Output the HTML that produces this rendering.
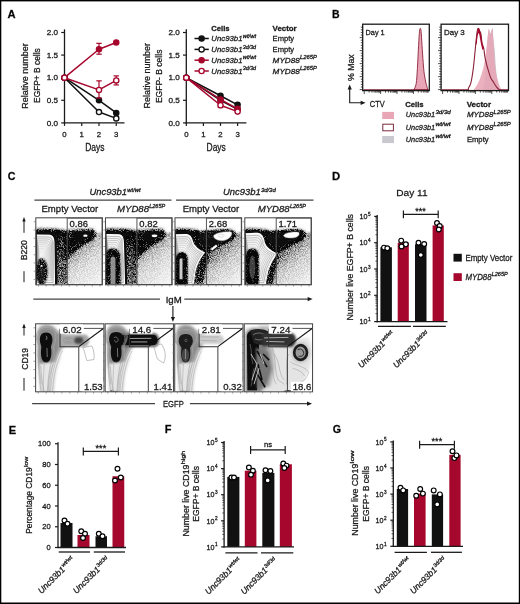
<!DOCTYPE html>
<html><head><meta charset="utf-8"><title>Figure</title>
<style>
html,body{margin:0;padding:0;background:#fff;}
body{width:520px;height:604px;overflow:hidden;}
svg{display:block;}
text{stroke:#1a1a1a;stroke-width:0.28px;}
</style></head><body>
<svg width="520" height="604" viewBox="0 0 520 604" font-family='"Liberation Sans", Arial, sans-serif'>
<rect x="0" y="0" width="520" height="604" fill="#fff"/>
<text x="7.50" y="17.90" font-size="11.8" font-weight="bold" textLength="8.10" lengthAdjust="spacingAndGlyphs" fill="#000">A</text>
<text x="331.90" y="17.90" font-size="11.8" font-weight="bold" textLength="7.60" lengthAdjust="spacingAndGlyphs" fill="#000">B</text>
<text x="7.70" y="180.40" font-size="11.8" font-weight="bold" textLength="7.70" lengthAdjust="spacingAndGlyphs" fill="#000">C</text>
<text x="332.00" y="180.40" font-size="11.8" font-weight="bold" textLength="8.20" lengthAdjust="spacingAndGlyphs" fill="#000">D</text>
<text x="8.70" y="433.80" font-size="11.8" font-weight="bold" textLength="7.40" lengthAdjust="spacingAndGlyphs" fill="#000">E</text>
<text x="164.80" y="433.40" font-size="11.8" font-weight="bold" textLength="6.70" lengthAdjust="spacingAndGlyphs" fill="#000">F</text>
<text x="332.70" y="433.40" font-size="11.8" font-weight="bold" textLength="8.30" lengthAdjust="spacingAndGlyphs" fill="#000">G</text>
<line x1="64.50" y1="29.30" x2="64.50" y2="123.50" stroke="#1a1a1a" stroke-width="1.3" />
<line x1="63.90" y1="122.90" x2="124.50" y2="122.90" stroke="#1a1a1a" stroke-width="1.3" />
<line x1="61.20" y1="122.90" x2="64.50" y2="122.90" stroke="#1a1a1a" stroke-width="1.2" />
<text x="58.10" y="125.65" font-size="7.8" text-anchor="end" textLength="11.30" lengthAdjust="spacingAndGlyphs" fill="#1a1a1a">0.0</text>
<line x1="61.20" y1="100.30" x2="64.50" y2="100.30" stroke="#1a1a1a" stroke-width="1.2" />
<text x="58.10" y="103.05" font-size="7.8" text-anchor="end" textLength="11.30" lengthAdjust="spacingAndGlyphs" fill="#1a1a1a">0.5</text>
<line x1="61.20" y1="77.70" x2="64.50" y2="77.70" stroke="#1a1a1a" stroke-width="1.2" />
<text x="58.10" y="80.45" font-size="7.8" text-anchor="end" textLength="11.30" lengthAdjust="spacingAndGlyphs" fill="#1a1a1a">1.0</text>
<line x1="61.20" y1="55.10" x2="64.50" y2="55.10" stroke="#1a1a1a" stroke-width="1.2" />
<text x="58.10" y="57.85" font-size="7.8" text-anchor="end" textLength="11.30" lengthAdjust="spacingAndGlyphs" fill="#1a1a1a">1.5</text>
<line x1="61.20" y1="32.50" x2="64.50" y2="32.50" stroke="#1a1a1a" stroke-width="1.2" />
<text x="58.10" y="35.25" font-size="7.8" text-anchor="end" textLength="11.30" lengthAdjust="spacingAndGlyphs" fill="#1a1a1a">2.0</text>
<line x1="64.50" y1="122.90" x2="64.50" y2="125.90" stroke="#1a1a1a" stroke-width="1.2" />
<text x="64.50" y="137.00" font-size="7.8" text-anchor="middle" fill="#1a1a1a">0</text>
<line x1="81.75" y1="122.90" x2="81.75" y2="125.90" stroke="#1a1a1a" stroke-width="1.2" />
<text x="81.75" y="137.00" font-size="7.8" text-anchor="middle" fill="#1a1a1a">1</text>
<line x1="99.00" y1="122.90" x2="99.00" y2="125.90" stroke="#1a1a1a" stroke-width="1.2" />
<text x="99.00" y="137.00" font-size="7.8" text-anchor="middle" fill="#1a1a1a">2</text>
<line x1="116.25" y1="122.90" x2="116.25" y2="125.90" stroke="#1a1a1a" stroke-width="1.2" />
<text x="116.25" y="137.00" font-size="7.8" text-anchor="middle" fill="#1a1a1a">3</text>
<text x="94.80" y="150.50" font-size="10" text-anchor="middle" textLength="19.30" lengthAdjust="spacingAndGlyphs" fill="#1a1a1a">Days</text>
<text transform="translate(27.80,108.80) rotate(-90)" font-size="8.9" fill="#1a1a1a" textLength="65.50" lengthAdjust="spacingAndGlyphs">Relative number</text>
<text transform="translate(40.20,102.90) rotate(-90)" font-size="8.9" fill="#1a1a1a" textLength="54.60" lengthAdjust="spacingAndGlyphs">EGFP+ B cells</text>
<polyline points="64.50,77.70 99.00,100.30 116.25,112.96" fill="none" stroke="#111" stroke-width="1.5" stroke-linejoin="round"/>
<circle cx="64.50" cy="77.70" r="2.6" fill="#111" stroke="#111" stroke-width="1.35"/>
<circle cx="99.00" cy="100.30" r="2.6" fill="#111" stroke="#111" stroke-width="1.35"/>
<circle cx="116.25" cy="112.96" r="2.6" fill="#111" stroke="#111" stroke-width="1.35"/>
<polyline points="64.50,77.70 99.00,112.05 116.25,118.38" fill="none" stroke="#111" stroke-width="1.5" stroke-linejoin="round"/>
<circle cx="64.50" cy="77.70" r="2.6" fill="#fff" stroke="#111" stroke-width="1.35"/>
<circle cx="99.00" cy="112.05" r="2.6" fill="#fff" stroke="#111" stroke-width="1.35"/>
<circle cx="116.25" cy="118.38" r="2.6" fill="#fff" stroke="#111" stroke-width="1.35"/>
<polyline points="64.50,77.70 99.00,49.22 116.25,42.44" fill="none" stroke="#a6072c" stroke-width="1.5" stroke-linejoin="round"/>
<line x1="99.00" y1="54.20" x2="99.00" y2="43.35" stroke="#a6072c" stroke-width="1.2" />
<line x1="96.30" y1="54.20" x2="101.70" y2="54.20" stroke="#a6072c" stroke-width="1.2" />
<line x1="96.30" y1="43.35" x2="101.70" y2="43.35" stroke="#a6072c" stroke-width="1.2" />
<circle cx="64.50" cy="77.70" r="2.6" fill="#a6072c" stroke="#a6072c" stroke-width="1.35"/>
<circle cx="99.00" cy="49.22" r="2.6" fill="#a6072c" stroke="#a6072c" stroke-width="1.35"/>
<circle cx="116.25" cy="42.44" r="2.6" fill="#a6072c" stroke="#a6072c" stroke-width="1.35"/>
<polyline points="64.50,77.70 99.00,89.90 116.25,80.41" fill="none" stroke="#a6072c" stroke-width="1.5" stroke-linejoin="round"/>
<line x1="99.00" y1="98.04" x2="99.00" y2="80.86" stroke="#a6072c" stroke-width="1.2" />
<line x1="96.30" y1="98.04" x2="101.70" y2="98.04" stroke="#a6072c" stroke-width="1.2" />
<line x1="96.30" y1="80.86" x2="101.70" y2="80.86" stroke="#a6072c" stroke-width="1.2" />
<line x1="116.25" y1="84.93" x2="116.25" y2="75.89" stroke="#a6072c" stroke-width="1.2" />
<line x1="113.55" y1="84.93" x2="118.95" y2="84.93" stroke="#a6072c" stroke-width="1.2" />
<line x1="113.55" y1="75.89" x2="118.95" y2="75.89" stroke="#a6072c" stroke-width="1.2" />
<circle cx="64.50" cy="77.70" r="2.6" fill="#fff" stroke="#a6072c" stroke-width="1.35"/>
<circle cx="99.00" cy="89.90" r="2.6" fill="#fff" stroke="#a6072c" stroke-width="1.35"/>
<circle cx="116.25" cy="80.41" r="2.6" fill="#fff" stroke="#a6072c" stroke-width="1.35"/>
<line x1="186.30" y1="29.30" x2="186.30" y2="123.50" stroke="#1a1a1a" stroke-width="1.3" />
<line x1="185.70" y1="122.90" x2="246.40" y2="122.90" stroke="#1a1a1a" stroke-width="1.3" />
<line x1="183.00" y1="122.90" x2="186.30" y2="122.90" stroke="#1a1a1a" stroke-width="1.2" />
<text x="179.90" y="125.65" font-size="7.8" text-anchor="end" textLength="11.30" lengthAdjust="spacingAndGlyphs" fill="#1a1a1a">0.0</text>
<line x1="183.00" y1="100.30" x2="186.30" y2="100.30" stroke="#1a1a1a" stroke-width="1.2" />
<text x="179.90" y="103.05" font-size="7.8" text-anchor="end" textLength="11.30" lengthAdjust="spacingAndGlyphs" fill="#1a1a1a">0.5</text>
<line x1="183.00" y1="77.70" x2="186.30" y2="77.70" stroke="#1a1a1a" stroke-width="1.2" />
<text x="179.90" y="80.45" font-size="7.8" text-anchor="end" textLength="11.30" lengthAdjust="spacingAndGlyphs" fill="#1a1a1a">1.0</text>
<line x1="183.00" y1="55.10" x2="186.30" y2="55.10" stroke="#1a1a1a" stroke-width="1.2" />
<text x="179.90" y="57.85" font-size="7.8" text-anchor="end" textLength="11.30" lengthAdjust="spacingAndGlyphs" fill="#1a1a1a">1.5</text>
<line x1="183.00" y1="32.50" x2="186.30" y2="32.50" stroke="#1a1a1a" stroke-width="1.2" />
<text x="179.90" y="35.25" font-size="7.8" text-anchor="end" textLength="11.30" lengthAdjust="spacingAndGlyphs" fill="#1a1a1a">2.0</text>
<line x1="186.30" y1="122.90" x2="186.30" y2="125.90" stroke="#1a1a1a" stroke-width="1.2" />
<text x="186.30" y="137.00" font-size="7.8" text-anchor="middle" fill="#1a1a1a">0</text>
<line x1="203.40" y1="122.90" x2="203.40" y2="125.90" stroke="#1a1a1a" stroke-width="1.2" />
<text x="203.40" y="137.00" font-size="7.8" text-anchor="middle" fill="#1a1a1a">1</text>
<line x1="220.50" y1="122.90" x2="220.50" y2="125.90" stroke="#1a1a1a" stroke-width="1.2" />
<text x="220.50" y="137.00" font-size="7.8" text-anchor="middle" fill="#1a1a1a">2</text>
<line x1="237.60" y1="122.90" x2="237.60" y2="125.90" stroke="#1a1a1a" stroke-width="1.2" />
<text x="237.60" y="137.00" font-size="7.8" text-anchor="middle" fill="#1a1a1a">3</text>
<text x="216.20" y="150.50" font-size="10" text-anchor="middle" textLength="19.30" lengthAdjust="spacingAndGlyphs" fill="#1a1a1a">Days</text>
<text transform="translate(149.60,108.40) rotate(-90)" font-size="8.9" fill="#1a1a1a" textLength="65.50" lengthAdjust="spacingAndGlyphs">Relative number</text>
<text transform="translate(162.00,103.10) rotate(-90)" font-size="8.9" fill="#1a1a1a" textLength="53.50" lengthAdjust="spacingAndGlyphs">EGFP- B cells</text>
<polyline points="186.30,77.70 220.50,95.78 237.60,104.82" fill="none" stroke="#111" stroke-width="1.5" stroke-linejoin="round"/>
<circle cx="186.30" cy="77.70" r="2.6" fill="#111" stroke="#111" stroke-width="1.35"/>
<circle cx="220.50" cy="95.78" r="2.6" fill="#111" stroke="#111" stroke-width="1.35"/>
<circle cx="237.60" cy="104.82" r="2.6" fill="#111" stroke="#111" stroke-width="1.35"/>
<polyline points="186.30,77.70 220.50,100.30 237.60,109.34" fill="none" stroke="#111" stroke-width="1.5" stroke-linejoin="round"/>
<circle cx="186.30" cy="77.70" r="2.6" fill="#fff" stroke="#111" stroke-width="1.35"/>
<circle cx="220.50" cy="100.30" r="2.6" fill="#fff" stroke="#111" stroke-width="1.35"/>
<circle cx="237.60" cy="109.34" r="2.6" fill="#fff" stroke="#111" stroke-width="1.35"/>
<polyline points="186.30,77.70 220.50,99.40 237.60,108.89" fill="none" stroke="#a6072c" stroke-width="1.5" stroke-linejoin="round"/>
<circle cx="186.30" cy="77.70" r="2.6" fill="#a6072c" stroke="#a6072c" stroke-width="1.35"/>
<circle cx="220.50" cy="99.40" r="2.6" fill="#a6072c" stroke="#a6072c" stroke-width="1.35"/>
<circle cx="237.60" cy="108.89" r="2.6" fill="#a6072c" stroke="#a6072c" stroke-width="1.35"/>
<polyline points="186.30,77.70 220.50,105.27 237.60,111.60" fill="none" stroke="#a6072c" stroke-width="1.5" stroke-linejoin="round"/>
<line x1="220.50" y1="107.53" x2="220.50" y2="102.56" stroke="#a6072c" stroke-width="1.2" />
<line x1="217.80" y1="107.53" x2="223.20" y2="107.53" stroke="#a6072c" stroke-width="1.2" />
<line x1="217.80" y1="102.56" x2="223.20" y2="102.56" stroke="#a6072c" stroke-width="1.2" />
<circle cx="186.30" cy="77.70" r="2.6" fill="#fff" stroke="#a6072c" stroke-width="1.35"/>
<circle cx="220.50" cy="105.27" r="2.6" fill="#fff" stroke="#a6072c" stroke-width="1.35"/>
<circle cx="237.60" cy="111.60" r="2.6" fill="#fff" stroke="#a6072c" stroke-width="1.35"/>
<text x="211.30" y="30.70" font-size="7.7" font-weight="bold" textLength="18.20" lengthAdjust="spacingAndGlyphs" fill="#1a1a1a">Cells</text>
<text x="272.60" y="30.70" font-size="7.7" font-weight="bold" textLength="24.10" lengthAdjust="spacingAndGlyphs" fill="#1a1a1a">Vector</text>
<line x1="194.50" y1="38.50" x2="208.80" y2="38.50" stroke="#111" stroke-width="1.5" />
<circle cx="201.6" cy="38.50" r="2.6" fill="#111" stroke="#111" stroke-width="1.35"/>
<text y="41.30" font-size="7.8" font-style="italic" fill="#1a1a1a"><tspan x="211.30" textLength="31.20" lengthAdjust="spacingAndGlyphs">Unc93b1</tspan><tspan x="242.70" y="37.60" font-size="5.2" textLength="13.40" lengthAdjust="spacingAndGlyphs">wt/wt</tspan></text>
<text x="272.60" y="41.30" font-size="7.7" textLength="21.50" lengthAdjust="spacingAndGlyphs" fill="#1a1a1a">Empty</text>
<line x1="194.50" y1="49.40" x2="208.80" y2="49.40" stroke="#111" stroke-width="1.5" />
<circle cx="201.6" cy="49.40" r="2.6" fill="#fff" stroke="#111" stroke-width="1.35"/>
<text y="52.20" font-size="7.8" font-style="italic" fill="#1a1a1a"><tspan x="211.30" textLength="31.20" lengthAdjust="spacingAndGlyphs">Unc93b1</tspan><tspan x="242.70" y="48.50" font-size="5.2" textLength="13.40" lengthAdjust="spacingAndGlyphs">3d/3d</tspan></text>
<text x="272.60" y="52.20" font-size="7.7" textLength="21.50" lengthAdjust="spacingAndGlyphs" fill="#1a1a1a">Empty</text>
<line x1="194.50" y1="60.20" x2="208.80" y2="60.20" stroke="#a6072c" stroke-width="1.5" />
<circle cx="201.6" cy="60.20" r="2.6" fill="#a6072c" stroke="#a6072c" stroke-width="1.35"/>
<text y="63.00" font-size="7.8" font-style="italic" fill="#1a1a1a"><tspan x="211.30" textLength="31.20" lengthAdjust="spacingAndGlyphs">Unc93b1</tspan><tspan x="242.70" y="59.30" font-size="5.2" textLength="13.40" lengthAdjust="spacingAndGlyphs">wt/wt</tspan></text>
<text y="63.00" font-size="7.8" font-style="italic" fill="#1a1a1a"><tspan x="272.60" textLength="27.30" lengthAdjust="spacingAndGlyphs">MYD88</tspan><tspan x="300.10" y="59.30" font-size="5.2" textLength="16.80" lengthAdjust="spacingAndGlyphs">L265P</tspan></text>
<line x1="194.50" y1="71.00" x2="208.80" y2="71.00" stroke="#a6072c" stroke-width="1.5" />
<circle cx="201.6" cy="71.00" r="2.6" fill="#fff" stroke="#a6072c" stroke-width="1.35"/>
<text y="73.80" font-size="7.8" font-style="italic" fill="#1a1a1a"><tspan x="211.30" textLength="31.20" lengthAdjust="spacingAndGlyphs">Unc93b1</tspan><tspan x="242.70" y="70.10" font-size="5.2" textLength="13.40" lengthAdjust="spacingAndGlyphs">3d/3d</tspan></text>
<text y="73.80" font-size="7.8" font-style="italic" fill="#1a1a1a"><tspan x="272.60" textLength="27.30" lengthAdjust="spacingAndGlyphs">MYD88</tspan><tspan x="300.10" y="70.10" font-size="5.2" textLength="16.80" lengthAdjust="spacingAndGlyphs">L265P</tspan></text>
<path d="M413.90 90.00 C414.28 88.92 415.62 87.10 416.20 83.50 C416.78 79.90 417.00 74.78 417.40 68.40 C417.80 62.02 418.25 51.38 418.60 45.20 C418.95 39.02 419.22 34.10 419.50 31.30 C419.78 28.50 420.03 28.40 420.30 28.40 C420.57 28.40 420.82 28.50 421.10 31.30 C421.38 34.10 421.65 39.98 422.00 45.20 C422.35 50.42 422.82 57.77 423.20 62.60 C423.58 67.43 423.82 70.72 424.30 74.20 C424.78 77.68 425.48 80.87 426.10 83.50 C426.72 86.13 427.68 88.92 428.00 90.00 Z" fill="#e8a6b6" stroke="#8a2238" stroke-width="0.9"/>
<line x1="363.3" y1="89.8" x2="428.7" y2="89.8" stroke="#8a2238" stroke-width="1.1"/>
<path d="M483.00 90.00 C483.33 87.50 484.42 80.83 485.00 75.00 C485.58 69.17 486.03 61.50 486.50 55.00 C486.97 48.50 487.42 40.33 487.80 36.00 C488.18 31.67 488.40 29.50 488.80 29.00 C489.20 28.50 489.78 32.67 490.20 33.00 C490.62 33.33 490.92 31.77 491.30 31.00 C491.68 30.23 492.12 26.90 492.50 28.40 C492.88 29.90 493.22 36.23 493.60 40.00 C493.98 43.77 494.40 46.27 494.80 51.00 C495.20 55.73 495.42 62.80 496.00 68.40 C496.58 74.00 497.55 81.00 498.30 84.60 C499.05 88.20 500.13 89.10 500.50 90.00 Z" fill="#c9c7cd"/>
<path d="M473.50 90.00 C474.08 89.17 475.87 87.05 477.00 85.00 C478.13 82.95 479.17 80.87 480.30 77.70 C481.43 74.53 482.83 70.45 483.80 66.00 C484.77 61.55 485.43 56.02 486.10 51.00 C486.77 45.98 487.35 39.57 487.80 35.90 C488.25 32.23 488.37 29.18 488.80 29.00 C489.23 28.82 489.78 34.90 490.40 34.80 C491.02 34.70 492.00 27.53 492.50 28.40 C493.00 29.27 493.05 34.73 493.40 40.00 C493.75 45.27 494.23 55.00 494.60 60.00 C494.97 65.00 495.18 67.05 495.60 70.00 C496.02 72.95 496.37 74.88 497.10 77.70 C497.83 80.52 499.18 84.85 500.00 86.90 C500.82 88.95 501.67 89.48 502.00 90.00 Z" fill="#e8a6b6" fill-opacity="0.88"/>
<path d="M442.00 89.80 C446.00 89.80 461.58 90.10 466.00 89.80 C470.42 89.50 467.67 89.25 468.50 88.00 C469.33 86.75 470.20 85.57 471.00 82.30 C471.80 79.03 472.62 73.62 473.30 68.40 C473.98 63.18 474.62 55.83 475.10 51.00 C475.58 46.17 475.82 42.88 476.20 39.40 C476.58 35.92 477.00 31.93 477.40 30.10 C477.80 28.27 478.22 28.20 478.60 28.40 C478.98 28.60 479.32 30.43 479.70 31.30 C480.08 32.17 480.52 31.67 480.90 33.60 C481.28 35.53 481.52 40.38 482.00 42.90 C482.48 45.42 483.32 46.38 483.80 48.70 C484.28 51.02 484.42 54.10 484.90 56.80 C485.38 59.50 486.12 62.58 486.70 64.90 C487.28 67.22 487.73 68.57 488.40 70.70 C489.07 72.83 489.83 75.77 490.70 77.70 C491.57 79.63 492.63 80.77 493.60 82.30 C494.57 83.83 495.53 85.67 496.50 86.90 C497.47 88.13 498.48 89.22 499.40 89.70 C500.32 90.18 500.57 89.78 502.00 89.80 C503.43 89.82 507.00 89.80 508.00 89.80" fill="none" stroke="#8a2238" stroke-width="1.1"/>
<path d="M475.8 43 C476.5 36 477.3 30 478.6 28.2 C480 29 481 33 482.3 43 L483.8 48.5 L482.4 50 L481 44 C480 38 479.5 34 478.6 33 C477.8 34 477.2 38 476.8 45 Z" fill="#a6072c"/>
<rect x="362.7" y="24.2" width="66.60" height="66.4" fill="none" stroke="#1a1a1a" stroke-width="1.3"/>
<text x="365.60" y="34.90" font-size="8" textLength="19.10" lengthAdjust="spacingAndGlyphs" fill="#1a1a1a">Day 1</text>
<path d="M359.70 89.60H362.70 M360.80 87.00H362.70 M360.80 84.40H362.70 M360.80 81.80H362.70 M360.80 79.20H362.70 M359.70 76.60H362.70 M360.80 74.00H362.70 M360.80 71.40H362.70 M360.80 68.80H362.70 M360.80 66.20H362.70 M359.70 63.60H362.70 M360.80 61.00H362.70 M360.80 58.40H362.70 M360.80 55.80H362.70 M360.80 53.20H362.70 M359.70 50.60H362.70 M360.80 48.00H362.70 M360.80 45.40H362.70 M360.80 42.80H362.70 M360.80 40.20H362.70 M359.70 37.60H362.70 M360.80 35.00H362.70 M360.80 32.40H362.70 M360.80 29.80H362.70 M360.80 27.20H362.70 M364.20 90.6V94.00 M369.14 90.6V92.60 M372.02 90.6V92.60 M374.07 90.6V92.60 M375.66 90.6V92.60 M376.96 90.6V92.60 M378.06 90.6V92.60 M379.01 90.6V92.60 M379.85 90.6V92.60 M380.60 90.6V94.00 M385.54 90.6V92.60 M388.42 90.6V92.60 M390.47 90.6V92.60 M392.06 90.6V92.60 M393.36 90.6V92.60 M394.46 90.6V92.60 M395.41 90.6V92.60 M396.25 90.6V92.60 M397.00 90.6V94.00 M401.94 90.6V92.60 M404.82 90.6V92.60 M406.87 90.6V92.60 M408.46 90.6V92.60 M409.76 90.6V92.60 M410.86 90.6V92.60 M411.81 90.6V92.60 M412.65 90.6V92.60 M413.40 90.6V94.00 M418.34 90.6V92.60 M421.22 90.6V92.60 M423.27 90.6V92.60 M424.86 90.6V92.60 M426.16 90.6V92.60 M427.26 90.6V92.60 M428.21 90.6V92.60" stroke="#1a1a1a" stroke-width="0.75" fill="none"/>
<rect x="441.1" y="24.2" width="67.40" height="66.4" fill="none" stroke="#1a1a1a" stroke-width="1.3"/>
<text x="444.00" y="34.90" font-size="8" textLength="20.80" lengthAdjust="spacingAndGlyphs" fill="#1a1a1a">Day 3</text>
<path d="M438.10 89.60H441.10 M439.20 87.00H441.10 M439.20 84.40H441.10 M439.20 81.80H441.10 M439.20 79.20H441.10 M438.10 76.60H441.10 M439.20 74.00H441.10 M439.20 71.40H441.10 M439.20 68.80H441.10 M439.20 66.20H441.10 M438.10 63.60H441.10 M439.20 61.00H441.10 M439.20 58.40H441.10 M439.20 55.80H441.10 M439.20 53.20H441.10 M438.10 50.60H441.10 M439.20 48.00H441.10 M439.20 45.40H441.10 M439.20 42.80H441.10 M439.20 40.20H441.10 M438.10 37.60H441.10 M439.20 35.00H441.10 M439.20 32.40H441.10 M439.20 29.80H441.10 M439.20 27.20H441.10 M442.60 90.6V94.00 M447.54 90.6V92.60 M450.42 90.6V92.60 M452.47 90.6V92.60 M454.06 90.6V92.60 M455.36 90.6V92.60 M456.46 90.6V92.60 M457.41 90.6V92.60 M458.25 90.6V92.60 M459.00 90.6V94.00 M463.94 90.6V92.60 M466.82 90.6V92.60 M468.87 90.6V92.60 M470.46 90.6V92.60 M471.76 90.6V92.60 M472.86 90.6V92.60 M473.81 90.6V92.60 M474.65 90.6V92.60 M475.40 90.6V94.00 M480.34 90.6V92.60 M483.22 90.6V92.60 M485.27 90.6V92.60 M486.86 90.6V92.60 M488.16 90.6V92.60 M489.26 90.6V92.60 M490.21 90.6V92.60 M491.05 90.6V92.60 M491.80 90.6V94.00 M496.74 90.6V92.60 M499.62 90.6V92.60 M501.67 90.6V92.60 M503.26 90.6V92.60 M504.56 90.6V92.60 M505.66 90.6V92.60 M506.61 90.6V92.60 M507.45 90.6V92.60" stroke="#1a1a1a" stroke-width="0.75" fill="none"/>
<text transform="translate(354.20,81.10) rotate(-90)" font-size="9.4" fill="#1a1a1a" textLength="26.80" lengthAdjust="spacingAndGlyphs">% Max</text>
<path d="M349.7 88.5 V102.8 H362" fill="none" stroke="#1a1a1a" stroke-width="1.1"/>
<path d="M349.7 84.6 L347.6 89.6 L351.8 89.6 Z" fill="#1a1a1a"/>
<path d="M365.6 102.8 L360.6 100.7 L360.6 104.9 Z" fill="#1a1a1a"/>
<text x="369.80" y="106.70" font-size="9.8" textLength="14.90" lengthAdjust="spacingAndGlyphs" fill="#1a1a1a">CTV</text>
<text x="405.20" y="106.50" font-size="7.7" font-weight="bold" textLength="18.40" lengthAdjust="spacingAndGlyphs" fill="#1a1a1a">Cells</text>
<text x="466.70" y="106.50" font-size="7.7" font-weight="bold" textLength="24.40" lengthAdjust="spacingAndGlyphs" fill="#1a1a1a">Vector</text>
<rect x="382.2" y="111.9" width="11.8" height="7.1" fill="#e8a6b6"/>
<rect x="382.8" y="124.2" width="10.6" height="6.6" fill="#fff" stroke="#7a2a3c" stroke-width="1.0"/>
<rect x="382.2" y="136" width="11.8" height="7.1" fill="#c8c8ce"/>
<text y="117.20" font-size="7.8" font-style="italic" fill="#1a1a1a"><tspan x="405.80" textLength="29.40" lengthAdjust="spacingAndGlyphs">Unc93b1</tspan><tspan x="435.40" y="113.50" font-size="5.2" textLength="15.30" lengthAdjust="spacingAndGlyphs">3d/3d</tspan></text>
<text y="117.20" font-size="7.8" font-style="italic" fill="#1a1a1a"><tspan x="466.90" textLength="26.50" lengthAdjust="spacingAndGlyphs">MYD88</tspan><tspan x="493.60" y="113.50" font-size="5.2" textLength="17.10" lengthAdjust="spacingAndGlyphs">L265P</tspan></text>
<text y="129.50" font-size="7.8" font-style="italic" fill="#1a1a1a"><tspan x="405.80" textLength="29.40" lengthAdjust="spacingAndGlyphs">Unc93b1</tspan><tspan x="435.40" y="125.80" font-size="5.2" textLength="15.30" lengthAdjust="spacingAndGlyphs">wt/wt</tspan></text>
<text y="129.50" font-size="7.8" font-style="italic" fill="#1a1a1a"><tspan x="466.90" textLength="26.50" lengthAdjust="spacingAndGlyphs">MYD88</tspan><tspan x="493.60" y="125.80" font-size="5.2" textLength="17.10" lengthAdjust="spacingAndGlyphs">L265P</tspan></text>
<text y="141.80" font-size="7.8" font-style="italic" fill="#1a1a1a"><tspan x="405.80" textLength="29.40" lengthAdjust="spacingAndGlyphs">Unc93b1</tspan><tspan x="435.40" y="138.10" font-size="5.2" textLength="15.30" lengthAdjust="spacingAndGlyphs">wt/wt</tspan></text>
<text x="466.90" y="141.80" font-size="7.7" textLength="21.70" lengthAdjust="spacingAndGlyphs" fill="#1a1a1a">Empty</text>
<defs>
<filter id="spk" x="-5%" y="-5%" width="110%" height="110%" color-interpolation-filters="sRGB">
  <feGaussianBlur in="SourceAlpha" stdDeviation="1.0" result="d"/>
  <feTurbulence type="fractalNoise" baseFrequency="1.1" numOctaves="2" seed="4" result="n"/>
  <feColorMatrix in="n" type="matrix" values="0 0 0 0 0  0 0 0 0 0  0 0 0 0 0  2.6 0 0 0 -0.8" result="na"/>
  <feComposite in="d" in2="na" operator="arithmetic" k1="0.9" k2="0.58" k3="0" k4="0" result="df0"/>
  <feComponentTransfer in="df0" result="df"><feFuncA type="gamma" amplitude="1.7" exponent="1.4" offset="0"/></feComponentTransfer>
  <feColorMatrix in="df" type="matrix" values="0 0 0 0 0.03  0 0 0 0 0.03  0 0 0 0 0.03  0 0 0 1 0" result="cm"/>
  <feGaussianBlur in="cm" stdDeviation="0.3"/>
</filter>
<filter id="bl05" x="-30%" y="-30%" width="160%" height="160%"><feGaussianBlur stdDeviation="0.5"/></filter>
<filter id="bl1" x="-30%" y="-30%" width="160%" height="160%"><feGaussianBlur stdDeviation="0.8"/></filter>
<filter id="bl2" x="-30%" y="-30%" width="160%" height="160%"><feGaussianBlur stdDeviation="1.6"/></filter>
<filter id="bl3" x="-40%" y="-40%" width="180%" height="180%"><feGaussianBlur stdDeviation="3"/></filter>
<clipPath id="cbox"><rect x="0.4" y="0.4" width="67" height="66.7"/></clipPath>
<linearGradient id="gfade" gradientUnits="userSpaceOnUse" x1="34" y1="26" x2="66" y2="66">
  <stop offset="0" stop-color="#000" stop-opacity="0.42"/><stop offset="0.45" stop-color="#000" stop-opacity="0.16"/><stop offset="1" stop-color="#000" stop-opacity="0.04"/>
</linearGradient>
<linearGradient id="gfade2" gradientUnits="userSpaceOnUse" x1="34" y1="30" x2="64" y2="66">
  <stop offset="0" stop-color="#000" stop-opacity="0.5"/><stop offset="0.45" stop-color="#000" stop-opacity="0.2"/><stop offset="1" stop-color="#000" stop-opacity="0.05"/>
</linearGradient>
<linearGradient id="gcol" gradientUnits="userSpaceOnUse" x1="18" y1="0" x2="32" y2="0">
  <stop offset="0" stop-color="#000" stop-opacity="1"/><stop offset="1" stop-color="#000" stop-opacity="0.7"/>
</linearGradient>
<linearGradient id="gcolv" gradientUnits="userSpaceOnUse" x1="0" y1="15" x2="0" y2="68">
  <stop offset="0" stop-color="#000" stop-opacity="0.8"/><stop offset="0.35" stop-color="#000" stop-opacity="0.55"/><stop offset="1" stop-color="#000" stop-opacity="0.45"/>
</linearGradient>
<radialGradient id="ghalo"><stop offset="0" stop-color="#000" stop-opacity="0.5"/><stop offset="1" stop-color="#000" stop-opacity="0"/></radialGradient>
</defs>
<g transform="translate(35.4,217.8) scale(0.9882,0.9926)">
<g clip-path="url(#cbox)">
<g filter="url(#spk)"><rect x="30" y="24" width="38" height="44" fill="#000" fill-opacity="0.03"/><path d="M0 9 L62 8 L64 14 L0 14 Z" fill="#000" fill-opacity="0.05"/><path d="M31 20 L68 14 L68 68 L31 68 Z" fill="url(#gfade)"/><path d="M0 12.8 C10 12.3 20 12.8 30 14 L31 18 L0 18 Z" fill="#000" fill-opacity="0.92"/><path d="M0 10.3 C10 9.8 20 10.3 30 11.5 L30 13.5 L0 13.5 Z" fill="#000" fill-opacity="0.4"/><rect x="17" y="15" width="15" height="53" fill="url(#gcolv)"/><path d="M29 14 C40 13.5 51 12 59 12.5 C62.5 14.5 61.5 19.5 56 23 C48 27 40 32 34 40 L31 44 Z" fill="#000" fill-opacity="0.72"/><path d="M31 11.5 C40 11 51 10 59 10.5 L60 13 L31 14.5 Z" fill="#000" fill-opacity="0.3"/></g>
<path d="M18.5 16.5 L21.5 16.5 L22.3 68 L19.3 68 Z" fill="#111" filter="url(#bl05)"/>
<path d="M0 14.6 C10 14 20 14.5 28 16 L27 18 L0 17.5 Z" fill="#111" filter="url(#bl05)"/>
<path d="M38 16 C44 13 53 12.5 57 14.5 C57.5 18 52 21 46 23.5 C41 25 37 21 38 16 Z" fill="#111" filter="url(#bl1)"/>
<path d="M1 16.8 L14.5 17.2 C18 17.6 18.6 20 18.8 24 L19.4 68 L1 68 Z" fill="#f4f4f4" stroke="#161616" stroke-width="1.0"/>
<path d="M1 16.8 L14.5 17.2 C18 17.6 18.6 20 18.8 24 L19.4 68 L1 68 Z" fill="none" stroke="#fff" stroke-width="1.2" transform="translate(0.7,0.8) scale(0.96,0.985)"/>
<path d="M1 16.8 L14.5 17.2 C18 17.6 18.6 20 18.8 24 L19.4 68 L1 68 Z" fill="none" stroke="#555" stroke-width="0.42" transform="translate(5,40) scale(0.900) translate(-5,-40)"/>
<path d="M1 16.8 L14.5 17.2 C18 17.6 18.6 20 18.8 24 L19.4 68 L1 68 Z" fill="none" stroke="#5c5c5c" stroke-width="0.42" transform="translate(5,40) scale(0.815) translate(-5,-40)"/>
<path d="M1 16.8 L14.5 17.2 C18 17.6 18.6 20 18.8 24 L19.4 68 L1 68 Z" fill="none" stroke="#666" stroke-width="0.42" transform="translate(5,40) scale(0.730) translate(-5,-40)"/>
<path d="M1 16.8 L14.5 17.2 C18 17.6 18.6 20 18.8 24 L19.4 68 L1 68 Z" fill="none" stroke="#6c6c6c" stroke-width="0.42" transform="translate(5,40) scale(0.645) translate(-5,-40)"/>
<path d="M1 16.8 L14.5 17.2 C18 17.6 18.6 20 18.8 24 L19.4 68 L1 68 Z" fill="none" stroke="#777" stroke-width="0.42" transform="translate(5,40) scale(0.560) translate(-5,-40)"/>
<path d="M1 16.8 L14.5 17.2 C18 17.6 18.6 20 18.8 24 L19.4 68 L1 68 Z" fill="none" stroke="#808080" stroke-width="0.42" transform="translate(5,40) scale(0.475) translate(-5,-40)"/>
<path d="M1 16.8 L14.5 17.2 C18 17.6 18.6 20 18.8 24 L19.4 68 L1 68 Z" fill="none" stroke="#888" stroke-width="0.42" transform="translate(5,40) scale(0.390) translate(-5,-40)"/>
<path d="M1 16.8 L14.5 17.2 C18 17.6 18.6 20 18.8 24 L19.4 68 L1 68 Z" fill="none" stroke="#999" stroke-width="0.42" transform="translate(5,40) scale(0.305) translate(-5,-40)"/>
<path d="M1 16.8 L14.5 17.2 C18 17.6 18.6 20 18.8 24 L19.4 68 L1 68 Z" fill="none" stroke="#aaa" stroke-width="0.42" transform="translate(5,40) scale(0.220) translate(-5,-40)"/>
<rect x="0" y="16" width="1.4" height="52" fill="#222"/>
<g filter="url(#spk)"><ellipse cx="6.5" cy="54" rx="6.2" ry="13.5" fill="#000" fill-opacity="0.68"/></g>
<ellipse cx="6" cy="57" rx="3" ry="8" fill="#222" fill-opacity="0.5" filter="url(#bl1)"/>
<circle cx="6.2" cy="48.5" r="0.9" fill="#fff"/>
<ellipse cx="50.6" cy="18" rx="2.2" ry="1.2" fill="#fff"/>
</g>
<rect x="32.2" y="0.3" width="35.3" height="66.9" fill="none" stroke="#555" stroke-width="1"/>
<rect x="0.4" y="0" width="67.39999999999999" height="67.5" fill="none" stroke="#4a4a4a" stroke-width="1.05"/>
<line x1="3.0" y1="67.5" x2="3.0" y2="69.3" stroke="#666" stroke-width="0.6"/>
<line x1="10.8" y1="67.5" x2="10.8" y2="69.3" stroke="#666" stroke-width="0.6"/>
<line x1="18.6" y1="67.5" x2="18.6" y2="69.3" stroke="#666" stroke-width="0.6"/>
<line x1="26.4" y1="67.5" x2="26.4" y2="69.3" stroke="#666" stroke-width="0.6"/>
<line x1="34.2" y1="67.5" x2="34.2" y2="69.3" stroke="#666" stroke-width="0.6"/>
<line x1="42.0" y1="67.5" x2="42.0" y2="69.3" stroke="#666" stroke-width="0.6"/>
<line x1="49.8" y1="67.5" x2="49.8" y2="69.3" stroke="#666" stroke-width="0.6"/>
<line x1="57.6" y1="67.5" x2="57.6" y2="69.3" stroke="#666" stroke-width="0.6"/>
<line x1="65.4" y1="67.5" x2="65.4" y2="69.3" stroke="#666" stroke-width="0.6"/>
<line x1="-1.8" y1="4.0" x2="0" y2="4.0" stroke="#666" stroke-width="0.6"/>
<line x1="-1.8" y1="12.3" x2="0" y2="12.3" stroke="#666" stroke-width="0.6"/>
<line x1="-1.8" y1="20.6" x2="0" y2="20.6" stroke="#666" stroke-width="0.6"/>
<line x1="-1.8" y1="28.9" x2="0" y2="28.9" stroke="#666" stroke-width="0.6"/>
<line x1="-1.8" y1="37.2" x2="0" y2="37.2" stroke="#666" stroke-width="0.6"/>
<line x1="-1.8" y1="45.5" x2="0" y2="45.5" stroke="#666" stroke-width="0.6"/>
<line x1="-1.8" y1="53.8" x2="0" y2="53.8" stroke="#666" stroke-width="0.6"/>
<line x1="-1.8" y1="62.1" x2="0" y2="62.1" stroke="#666" stroke-width="0.6"/>
<text x="34.6" y="9.5" font-size="9.3" textLength="18.6" lengthAdjust="spacingAndGlyphs" fill="#1a1a1a">0.86</text>
</g>
<g transform="translate(105.1,217.8) scale(0.9882,0.9926)">
<g clip-path="url(#cbox)">
<g filter="url(#spk)"><rect x="30" y="24" width="38" height="44" fill="#000" fill-opacity="0.03"/><path d="M0 9 L62 8 L64 14 L0 14 Z" fill="#000" fill-opacity="0.05"/><path d="M31 20 L68 14 L68 68 L31 68 Z" fill="url(#gfade)"/><path d="M0 12.8 C10 12.3 20 12.8 30 14 L31 18 L0 18 Z" fill="#000" fill-opacity="0.92"/><path d="M0 10.3 C10 9.8 20 10.3 30 11.5 L30 13.5 L0 13.5 Z" fill="#000" fill-opacity="0.4"/><rect x="17" y="15" width="15" height="53" fill="url(#gcolv)"/><path d="M29 14 C40 13.5 51 12 59 12.5 C62.5 14.5 61.5 19.5 56 23 C48 27 40 32 34 40 L31 44 Z" fill="#000" fill-opacity="0.72"/><path d="M31 11.5 C40 11 51 10 59 10.5 L60 13 L31 14.5 Z" fill="#000" fill-opacity="0.3"/></g>
<path d="M18.5 16.5 L21.5 16.5 L22.3 68 L19.3 68 Z" fill="#111" filter="url(#bl05)"/>
<path d="M0 14.6 C10 14 20 14.5 28 16 L27 18 L0 17.5 Z" fill="#111" filter="url(#bl05)"/>
<path d="M38 16 C44 13 53 12.5 57 14.5 C57.5 18 52 21 46 23.5 C41 25 37 21 38 16 Z" fill="#111" filter="url(#bl1)"/>
<path d="M1 16.3 L14 16.6 C17.5 17 18.5 19.5 18.6 26 L19.8 68 L1 68 Z" fill="#f4f4f4" stroke="#161616" stroke-width="1.0"/>
<path d="M1 16.3 L14 16.6 C17.5 17 18.5 19.5 18.6 26 L19.8 68 L1 68 Z" fill="none" stroke="#fff" stroke-width="1.2" transform="translate(0.7,0.8) scale(0.96,0.985)"/>
<path d="M1 16.3 L14 16.6 C17.5 17 18.5 19.5 18.6 26 L19.8 68 L1 68 Z" fill="none" stroke="#555" stroke-width="0.42" transform="translate(5,40) scale(0.900) translate(-5,-40)"/>
<path d="M1 16.3 L14 16.6 C17.5 17 18.5 19.5 18.6 26 L19.8 68 L1 68 Z" fill="none" stroke="#5c5c5c" stroke-width="0.42" transform="translate(5,40) scale(0.815) translate(-5,-40)"/>
<path d="M1 16.3 L14 16.6 C17.5 17 18.5 19.5 18.6 26 L19.8 68 L1 68 Z" fill="none" stroke="#666" stroke-width="0.42" transform="translate(5,40) scale(0.730) translate(-5,-40)"/>
<path d="M1 16.3 L14 16.6 C17.5 17 18.5 19.5 18.6 26 L19.8 68 L1 68 Z" fill="none" stroke="#6c6c6c" stroke-width="0.42" transform="translate(5,40) scale(0.645) translate(-5,-40)"/>
<path d="M1 16.3 L14 16.6 C17.5 17 18.5 19.5 18.6 26 L19.8 68 L1 68 Z" fill="none" stroke="#777" stroke-width="0.42" transform="translate(5,40) scale(0.560) translate(-5,-40)"/>
<path d="M1 16.3 L14 16.6 C17.5 17 18.5 19.5 18.6 26 L19.8 68 L1 68 Z" fill="none" stroke="#808080" stroke-width="0.42" transform="translate(5,40) scale(0.475) translate(-5,-40)"/>
<path d="M1 16.3 L14 16.6 C17.5 17 18.5 19.5 18.6 26 L19.8 68 L1 68 Z" fill="none" stroke="#888" stroke-width="0.42" transform="translate(5,40) scale(0.390) translate(-5,-40)"/>
<path d="M1 16.3 L14 16.6 C17.5 17 18.5 19.5 18.6 26 L19.8 68 L1 68 Z" fill="none" stroke="#999" stroke-width="0.42" transform="translate(5,40) scale(0.305) translate(-5,-40)"/>
<path d="M1 16.3 L14 16.6 C17.5 17 18.5 19.5 18.6 26 L19.8 68 L1 68 Z" fill="none" stroke="#aaa" stroke-width="0.42" transform="translate(5,40) scale(0.220) translate(-5,-40)"/>
<rect x="0" y="16" width="1.4" height="52" fill="#222"/>
<g filter="url(#spk)"><path d="M1 68 L1 37 C1 29 14 29 15 37 L16 68 Z" fill="#000" fill-opacity="0.85"/></g>
<path d="M5.5 68 L5.5 42 C5.5 38 10.5 38 10.5 42 L10.5 68 Z" fill="#bbb" fill-opacity="0.75" filter="url(#bl1)"/>
<ellipse cx="50" cy="18.2" rx="3" ry="1.5" fill="#fff"/>
</g>
<rect x="32.2" y="0.3" width="35.3" height="66.9" fill="none" stroke="#555" stroke-width="1"/>
<rect x="0.4" y="0" width="67.39999999999999" height="67.5" fill="none" stroke="#4a4a4a" stroke-width="1.05"/>
<line x1="3.0" y1="67.5" x2="3.0" y2="69.3" stroke="#666" stroke-width="0.6"/>
<line x1="10.8" y1="67.5" x2="10.8" y2="69.3" stroke="#666" stroke-width="0.6"/>
<line x1="18.6" y1="67.5" x2="18.6" y2="69.3" stroke="#666" stroke-width="0.6"/>
<line x1="26.4" y1="67.5" x2="26.4" y2="69.3" stroke="#666" stroke-width="0.6"/>
<line x1="34.2" y1="67.5" x2="34.2" y2="69.3" stroke="#666" stroke-width="0.6"/>
<line x1="42.0" y1="67.5" x2="42.0" y2="69.3" stroke="#666" stroke-width="0.6"/>
<line x1="49.8" y1="67.5" x2="49.8" y2="69.3" stroke="#666" stroke-width="0.6"/>
<line x1="57.6" y1="67.5" x2="57.6" y2="69.3" stroke="#666" stroke-width="0.6"/>
<line x1="65.4" y1="67.5" x2="65.4" y2="69.3" stroke="#666" stroke-width="0.6"/>
<line x1="-1.8" y1="4.0" x2="0" y2="4.0" stroke="#666" stroke-width="0.6"/>
<line x1="-1.8" y1="12.3" x2="0" y2="12.3" stroke="#666" stroke-width="0.6"/>
<line x1="-1.8" y1="20.6" x2="0" y2="20.6" stroke="#666" stroke-width="0.6"/>
<line x1="-1.8" y1="28.9" x2="0" y2="28.9" stroke="#666" stroke-width="0.6"/>
<line x1="-1.8" y1="37.2" x2="0" y2="37.2" stroke="#666" stroke-width="0.6"/>
<line x1="-1.8" y1="45.5" x2="0" y2="45.5" stroke="#666" stroke-width="0.6"/>
<line x1="-1.8" y1="53.8" x2="0" y2="53.8" stroke="#666" stroke-width="0.6"/>
<line x1="-1.8" y1="62.1" x2="0" y2="62.1" stroke="#666" stroke-width="0.6"/>
<text x="34.6" y="9.5" font-size="9.3" textLength="18.6" lengthAdjust="spacingAndGlyphs" fill="#1a1a1a">0.82</text>
</g>
<g transform="translate(174.6,217.8) scale(0.9882,0.9926)">
<g clip-path="url(#cbox)">
<g filter="url(#spk)"><rect x="30" y="24" width="38" height="44" fill="#000" fill-opacity="0.03"/><path d="M0 9 L62 8 L64 14 L0 14 Z" fill="#000" fill-opacity="0.05"/><path d="M28 22 L68 14 L68 68 L22 68 Z" fill="url(#gfade2)"/><path d="M0 12.5 C8 11.8 16 12.5 24 14 L28 18 L0 18 Z" fill="#000" fill-opacity="0.95"/><path d="M0 10 C8 9.5 16 10 24 11.5 L26 14 L0 13.5 Z" fill="#000" fill-opacity="0.35"/><path d="M16 14.5 C26 13.5 40 12 50 11.5 C57 11 62 13 62 16.5 C61 21 55 24 48 27 C42 30 38 33 34 36 L28 38 L16 36 Z" fill="#000" fill-opacity="0.76"/><path d="M16 36 L30 36 L36 38 C32 46 30 56 29 68 L16 68 Z" fill="#000" fill-opacity="0.55"/></g>
<path d="M0 13.5 C8 12.5 16 13.5 22 16 L21 18 L0 17.5 Z" fill="#111" filter="url(#bl05)"/>
<path d="M22 17 C32 15.5 46 13.5 56 14 C59 17 54 22 44 26 C38 29 32 31 27 27 Z" fill="#111" fill-opacity="0.75" filter="url(#bl1)"/>
<path d="M1 16.6 L12 16.4 C16 16.6 17.5 20 18.6 25 C20.5 29 24 32 30.5 35 C27 39 23 46 21 53 L18.6 68 L1 68 Z" fill="#f4f4f4" stroke="#161616" stroke-width="1.0"/>
<path d="M1 16.6 L12 16.4 C16 16.6 17.5 20 18.6 25 C20.5 29 24 32 30.5 35 C27 39 23 46 21 53 L18.6 68 L1 68 Z" fill="none" stroke="#fff" stroke-width="1.2" transform="translate(0.7,0.8) scale(0.96,0.985)"/>
<path d="M1 16.6 L12 16.4 C16 16.6 17.5 20 18.6 25 C20.5 29 24 32 30.5 35 C27 39 23 46 21 53 L18.6 68 L1 68 Z" fill="none" stroke="#555" stroke-width="0.42" transform="translate(6,42) scale(0.900) translate(-6,-42)"/>
<path d="M1 16.6 L12 16.4 C16 16.6 17.5 20 18.6 25 C20.5 29 24 32 30.5 35 C27 39 23 46 21 53 L18.6 68 L1 68 Z" fill="none" stroke="#5c5c5c" stroke-width="0.42" transform="translate(6,42) scale(0.815) translate(-6,-42)"/>
<path d="M1 16.6 L12 16.4 C16 16.6 17.5 20 18.6 25 C20.5 29 24 32 30.5 35 C27 39 23 46 21 53 L18.6 68 L1 68 Z" fill="none" stroke="#666" stroke-width="0.42" transform="translate(6,42) scale(0.730) translate(-6,-42)"/>
<path d="M1 16.6 L12 16.4 C16 16.6 17.5 20 18.6 25 C20.5 29 24 32 30.5 35 C27 39 23 46 21 53 L18.6 68 L1 68 Z" fill="none" stroke="#6c6c6c" stroke-width="0.42" transform="translate(6,42) scale(0.645) translate(-6,-42)"/>
<path d="M1 16.6 L12 16.4 C16 16.6 17.5 20 18.6 25 C20.5 29 24 32 30.5 35 C27 39 23 46 21 53 L18.6 68 L1 68 Z" fill="none" stroke="#777" stroke-width="0.42" transform="translate(6,42) scale(0.560) translate(-6,-42)"/>
<path d="M1 16.6 L12 16.4 C16 16.6 17.5 20 18.6 25 C20.5 29 24 32 30.5 35 C27 39 23 46 21 53 L18.6 68 L1 68 Z" fill="none" stroke="#808080" stroke-width="0.42" transform="translate(6,42) scale(0.475) translate(-6,-42)"/>
<path d="M1 16.6 L12 16.4 C16 16.6 17.5 20 18.6 25 C20.5 29 24 32 30.5 35 C27 39 23 46 21 53 L18.6 68 L1 68 Z" fill="none" stroke="#888" stroke-width="0.42" transform="translate(6,42) scale(0.390) translate(-6,-42)"/>
<path d="M1 16.6 L12 16.4 C16 16.6 17.5 20 18.6 25 C20.5 29 24 32 30.5 35 C27 39 23 46 21 53 L18.6 68 L1 68 Z" fill="none" stroke="#999" stroke-width="0.42" transform="translate(6,42) scale(0.305) translate(-6,-42)"/>
<path d="M1 16.6 L12 16.4 C16 16.6 17.5 20 18.6 25 C20.5 29 24 32 30.5 35 C27 39 23 46 21 53 L18.6 68 L1 68 Z" fill="none" stroke="#aaa" stroke-width="0.42" transform="translate(6,42) scale(0.220) translate(-6,-42)"/>
<rect x="0" y="16" width="1.4" height="52" fill="#222"/>
<g filter="url(#spk)"><path d="M1.5 68 L1.5 41 C1.5 33 13 33 13 41 L13 68 Z" fill="#000"/></g>
<path d="M5 62 L5 43 C5 40 8 40 8 43 L8 62 Z" fill="#ccc" filter="url(#bl1)"/>
<path d="M39.4 18 C42 14.5 52 13.5 57.5 14.2 C59.5 17 55 22.5 49 23 C44 23.4 39 21 39.4 18 Z" fill="#fff" stroke="#888" stroke-width="0.5"/>
<ellipse cx="47" cy="18" rx="3" ry="1.6" fill="none" stroke="#bbb" stroke-width="0.5"/>
<path d="M36.5 31.5 L42 27 L43.5 28.6 L38 33 Z" fill="#fff" filter="url(#bl05)"/>
</g>
<rect x="32.2" y="0.3" width="35.3" height="66.9" fill="none" stroke="#555" stroke-width="1"/>
<rect x="0.4" y="0" width="67.39999999999999" height="67.5" fill="none" stroke="#4a4a4a" stroke-width="1.05"/>
<line x1="3.0" y1="67.5" x2="3.0" y2="69.3" stroke="#666" stroke-width="0.6"/>
<line x1="10.8" y1="67.5" x2="10.8" y2="69.3" stroke="#666" stroke-width="0.6"/>
<line x1="18.6" y1="67.5" x2="18.6" y2="69.3" stroke="#666" stroke-width="0.6"/>
<line x1="26.4" y1="67.5" x2="26.4" y2="69.3" stroke="#666" stroke-width="0.6"/>
<line x1="34.2" y1="67.5" x2="34.2" y2="69.3" stroke="#666" stroke-width="0.6"/>
<line x1="42.0" y1="67.5" x2="42.0" y2="69.3" stroke="#666" stroke-width="0.6"/>
<line x1="49.8" y1="67.5" x2="49.8" y2="69.3" stroke="#666" stroke-width="0.6"/>
<line x1="57.6" y1="67.5" x2="57.6" y2="69.3" stroke="#666" stroke-width="0.6"/>
<line x1="65.4" y1="67.5" x2="65.4" y2="69.3" stroke="#666" stroke-width="0.6"/>
<line x1="-1.8" y1="4.0" x2="0" y2="4.0" stroke="#666" stroke-width="0.6"/>
<line x1="-1.8" y1="12.3" x2="0" y2="12.3" stroke="#666" stroke-width="0.6"/>
<line x1="-1.8" y1="20.6" x2="0" y2="20.6" stroke="#666" stroke-width="0.6"/>
<line x1="-1.8" y1="28.9" x2="0" y2="28.9" stroke="#666" stroke-width="0.6"/>
<line x1="-1.8" y1="37.2" x2="0" y2="37.2" stroke="#666" stroke-width="0.6"/>
<line x1="-1.8" y1="45.5" x2="0" y2="45.5" stroke="#666" stroke-width="0.6"/>
<line x1="-1.8" y1="53.8" x2="0" y2="53.8" stroke="#666" stroke-width="0.6"/>
<line x1="-1.8" y1="62.1" x2="0" y2="62.1" stroke="#666" stroke-width="0.6"/>
<text x="34.6" y="9.5" font-size="9.3" textLength="18.6" lengthAdjust="spacingAndGlyphs" fill="#1a1a1a">2.68</text>
</g>
<g transform="translate(244.4,217.8) scale(0.9882,0.9926)">
<g clip-path="url(#cbox)">
<g filter="url(#spk)"><rect x="30" y="24" width="38" height="44" fill="#000" fill-opacity="0.03"/><path d="M0 9 L62 8 L64 14 L0 14 Z" fill="#000" fill-opacity="0.05"/><path d="M28 22 L68 14 L68 68 L22 68 Z" fill="url(#gfade2)"/><path d="M0 12.5 C8 11.8 16 12.5 24 14 L28 18 L0 18 Z" fill="#000" fill-opacity="0.95"/><path d="M0 10 C8 9.5 16 10 24 11.5 L26 14 L0 13.5 Z" fill="#000" fill-opacity="0.35"/><path d="M16 14.5 C26 13.5 40 12 50 11.5 C57 11 62 13 62 16.5 C61 21 55 24 48 27 C42 30 38 33 34 36 L28 38 L16 36 Z" fill="#000" fill-opacity="0.84"/><path d="M16 36 L30 36 L36 38 C32 46 30 56 29 68 L16 68 Z" fill="#000" fill-opacity="0.62"/></g>
<path d="M0 13.5 C8 12.5 16 13.5 22 16 L21 18 L0 17.5 Z" fill="#111" filter="url(#bl05)"/>
<path d="M22 17 C32 15.5 46 13.5 56 14 C59 17 54 22 44 26 C38 29 32 31 27 27 Z" fill="#111" fill-opacity="0.75" filter="url(#bl1)"/>
<path d="M1 15.5 L13 15 C18 15.2 19.5 19 20.3 25 C22 29.5 26 33 33 36 C30 40 26 47 24 53 L21 68 L1 68 Z" fill="#f4f4f4" stroke="#161616" stroke-width="1.0"/>
<path d="M1 15.5 L13 15 C18 15.2 19.5 19 20.3 25 C22 29.5 26 33 33 36 C30 40 26 47 24 53 L21 68 L1 68 Z" fill="none" stroke="#fff" stroke-width="1.2" transform="translate(0.7,0.8) scale(0.96,0.985)"/>
<path d="M1 15.5 L13 15 C18 15.2 19.5 19 20.3 25 C22 29.5 26 33 33 36 C30 40 26 47 24 53 L21 68 L1 68 Z" fill="none" stroke="#555" stroke-width="0.42" transform="translate(6,42) scale(0.900) translate(-6,-42)"/>
<path d="M1 15.5 L13 15 C18 15.2 19.5 19 20.3 25 C22 29.5 26 33 33 36 C30 40 26 47 24 53 L21 68 L1 68 Z" fill="none" stroke="#5c5c5c" stroke-width="0.42" transform="translate(6,42) scale(0.815) translate(-6,-42)"/>
<path d="M1 15.5 L13 15 C18 15.2 19.5 19 20.3 25 C22 29.5 26 33 33 36 C30 40 26 47 24 53 L21 68 L1 68 Z" fill="none" stroke="#666" stroke-width="0.42" transform="translate(6,42) scale(0.730) translate(-6,-42)"/>
<path d="M1 15.5 L13 15 C18 15.2 19.5 19 20.3 25 C22 29.5 26 33 33 36 C30 40 26 47 24 53 L21 68 L1 68 Z" fill="none" stroke="#6c6c6c" stroke-width="0.42" transform="translate(6,42) scale(0.645) translate(-6,-42)"/>
<path d="M1 15.5 L13 15 C18 15.2 19.5 19 20.3 25 C22 29.5 26 33 33 36 C30 40 26 47 24 53 L21 68 L1 68 Z" fill="none" stroke="#777" stroke-width="0.42" transform="translate(6,42) scale(0.560) translate(-6,-42)"/>
<path d="M1 15.5 L13 15 C18 15.2 19.5 19 20.3 25 C22 29.5 26 33 33 36 C30 40 26 47 24 53 L21 68 L1 68 Z" fill="none" stroke="#808080" stroke-width="0.42" transform="translate(6,42) scale(0.475) translate(-6,-42)"/>
<path d="M1 15.5 L13 15 C18 15.2 19.5 19 20.3 25 C22 29.5 26 33 33 36 C30 40 26 47 24 53 L21 68 L1 68 Z" fill="none" stroke="#888" stroke-width="0.42" transform="translate(6,42) scale(0.390) translate(-6,-42)"/>
<path d="M1 15.5 L13 15 C18 15.2 19.5 19 20.3 25 C22 29.5 26 33 33 36 C30 40 26 47 24 53 L21 68 L1 68 Z" fill="none" stroke="#999" stroke-width="0.42" transform="translate(6,42) scale(0.305) translate(-6,-42)"/>
<path d="M1 15.5 L13 15 C18 15.2 19.5 19 20.3 25 C22 29.5 26 33 33 36 C30 40 26 47 24 53 L21 68 L1 68 Z" fill="none" stroke="#aaa" stroke-width="0.42" transform="translate(6,42) scale(0.220) translate(-6,-42)"/>
<rect x="0" y="16" width="1.4" height="52" fill="#222"/>
<g filter="url(#spk)"><path d="M1.5 68 L1.5 38 C1.5 29 14.5 29 14.5 38 L14.5 68 Z" fill="#000" fill-opacity="0.92"/></g>
<ellipse cx="8" cy="50" rx="3" ry="12" fill="#777" fill-opacity="0.5" filter="url(#bl1)"/>
<path d="M39.6 17.5 C42 14.5 50 13.8 55 14.5 C56.5 17 54 20.3 48 20.3 C43 20.3 39.4 19.5 39.6 17.5 Z" fill="#fff" stroke="#999" stroke-width="0.4"/>
</g>
<rect x="32.2" y="0.3" width="35.3" height="66.9" fill="none" stroke="#555" stroke-width="1"/>
<rect x="0.4" y="0" width="67.39999999999999" height="67.5" fill="none" stroke="#4a4a4a" stroke-width="1.05"/>
<line x1="3.0" y1="67.5" x2="3.0" y2="69.3" stroke="#666" stroke-width="0.6"/>
<line x1="10.8" y1="67.5" x2="10.8" y2="69.3" stroke="#666" stroke-width="0.6"/>
<line x1="18.6" y1="67.5" x2="18.6" y2="69.3" stroke="#666" stroke-width="0.6"/>
<line x1="26.4" y1="67.5" x2="26.4" y2="69.3" stroke="#666" stroke-width="0.6"/>
<line x1="34.2" y1="67.5" x2="34.2" y2="69.3" stroke="#666" stroke-width="0.6"/>
<line x1="42.0" y1="67.5" x2="42.0" y2="69.3" stroke="#666" stroke-width="0.6"/>
<line x1="49.8" y1="67.5" x2="49.8" y2="69.3" stroke="#666" stroke-width="0.6"/>
<line x1="57.6" y1="67.5" x2="57.6" y2="69.3" stroke="#666" stroke-width="0.6"/>
<line x1="65.4" y1="67.5" x2="65.4" y2="69.3" stroke="#666" stroke-width="0.6"/>
<line x1="-1.8" y1="4.0" x2="0" y2="4.0" stroke="#666" stroke-width="0.6"/>
<line x1="-1.8" y1="12.3" x2="0" y2="12.3" stroke="#666" stroke-width="0.6"/>
<line x1="-1.8" y1="20.6" x2="0" y2="20.6" stroke="#666" stroke-width="0.6"/>
<line x1="-1.8" y1="28.9" x2="0" y2="28.9" stroke="#666" stroke-width="0.6"/>
<line x1="-1.8" y1="37.2" x2="0" y2="37.2" stroke="#666" stroke-width="0.6"/>
<line x1="-1.8" y1="45.5" x2="0" y2="45.5" stroke="#666" stroke-width="0.6"/>
<line x1="-1.8" y1="53.8" x2="0" y2="53.8" stroke="#666" stroke-width="0.6"/>
<line x1="-1.8" y1="62.1" x2="0" y2="62.1" stroke="#666" stroke-width="0.6"/>
<text x="34.6" y="9.5" font-size="9.3" textLength="18.6" lengthAdjust="spacingAndGlyphs" fill="#1a1a1a">1.71</text>
</g>
<g transform="translate(35.2,323.8) scale(1.0133,1.0074)">
<g clip-path="url(#cbox)">
<path d="M3 4 C6 -1 16 -1 20 5 C24 9 27 10 30 11 L28 24 C22 30 20 40 19 52 L18 68 L5 68 C4 50 2 30 3 4 Z" fill="#c6c6c6" filter="url(#bl2)"/>
<path d="M3 8 C5 0 18 0 21 8 L26 12 L26 22 C22 26 20 34 19 42 C15 47 7 47 4 42 Z" fill="#8c8c8c" filter="url(#bl2)"/>
<path d="M7 40 C8 50 9 60 10 68 L16 68 C16 58 17 48 18 40 Z" fill="#ccc" filter="url(#bl1)"/>
<path d="M23 10.5 L50 10.5 C55 13 54 21 49 23 L23 23 Z" fill="#a8a8a8" filter="url(#bl1)"/>
<ellipse cx="43" cy="16.5" rx="4.5" ry="3.4" fill="#444" filter="url(#bl1)"/>
<path d="M10.80 8.60 C16.38 8.60 17.00 13.10 17.00 16.10 C17.00 19.70 15.28 22.10 15.56 23.60 C16.40 27.80 16.40 38.60 10.80 38.60 C5.20 38.60 5.20 27.80 6.04 23.60 C6.32 22.10 4.60 19.70 4.60 16.10 C4.60 13.10 5.22 8.60 10.80 8.60 Z" fill="none" stroke="#aaa" stroke-width="0.5" transform="translate(10.8,23.6) scale(1.55,1.330) translate(-10.8,-23.6)"/>
<path d="M10.80 8.60 C16.38 8.60 17.00 13.10 17.00 16.10 C17.00 19.70 15.28 22.10 15.56 23.60 C16.40 27.80 16.40 38.60 10.80 38.60 C5.20 38.60 5.20 27.80 6.04 23.60 C6.32 22.10 4.60 19.70 4.60 16.10 C4.60 13.10 5.22 8.60 10.80 8.60 Z" fill="none" stroke="#999" stroke-width="0.5" transform="translate(10.8,23.6) scale(1.38,1.228) translate(-10.8,-23.6)"/>
<path d="M10.80 8.60 C16.38 8.60 17.00 13.10 17.00 16.10 C17.00 19.70 15.28 22.10 15.56 23.60 C16.40 27.80 16.40 38.60 10.80 38.60 C5.20 38.60 5.20 27.80 6.04 23.60 C6.32 22.10 4.60 19.70 4.60 16.10 C4.60 13.10 5.22 8.60 10.80 8.60 Z" fill="none" stroke="#888" stroke-width="0.5" transform="translate(10.8,23.6) scale(1.2,1.120) translate(-10.8,-23.6)"/>
<path d="M10.80 8.60 C16.38 8.60 17.00 13.10 17.00 16.10 C17.00 19.70 15.28 22.10 15.56 23.60 C16.40 27.80 16.40 38.60 10.80 38.60 C5.20 38.60 5.20 27.80 6.04 23.60 C6.32 22.10 4.60 19.70 4.60 16.10 C4.60 13.10 5.22 8.60 10.80 8.60 Z" fill="#111" filter="url(#bl05)"/>
<path d="M10.5 12 C12 13 12 15 10.5 16" fill="none" stroke="#ccc" stroke-width="0.6"/>
<path d="M11.6 24 L11.9 33" stroke="#999" stroke-width="0.7"/>
<ellipse cx="33" cy="16.5" rx="5" ry="2.6" fill="none" stroke="#888" stroke-width="0.5"/>
<ellipse cx="33" cy="16.5" rx="2.4" ry="1.2" fill="none" stroke="#888" stroke-width="0.5"/>
<path d="M47 23.5 L56 22 C58 26 58.5 32 58 35.5 L51 36.5 C49 31 49 27 47 23.5 Z" fill="none" stroke="#999" stroke-width="0.6"/>
<path d="M4 40 C5 50 6 60 7 68 L18 68 C18 58 21 46 27 30 L20 38 Z" fill="#e6e6e6" filter="url(#bl1)"/>
<path d="M23 25 C17 36 15 50 14 68 M27 27 C21 38 18 52 17 68 M18 40 C14 48 13 58 13 68" fill="none" stroke="#999" stroke-width="0.45"/>
<path d="M3 30 C3 44 4 56 6 68 M5.5 42 C6 52 7 60 9 68" fill="none" stroke="#999" stroke-width="0.45"/>
<path d="M21 25 C15 36 13 50 12 68" fill="none" stroke="#888" stroke-width="0.45"/>
<path d="M25 25 C19 38 16 52 15 68" fill="none" stroke="#999" stroke-width="0.45"/>
<path d="M8 68 C8 56 8.5 46 9 40" fill="none" stroke="#999" stroke-width="0.45"/>
<path d="M17 4 C22 7 26 9 29 10" fill="none" stroke="#aaa" stroke-width="0.45"/>
<path d="M4 6 C2 20 3 40 6 60" fill="none" stroke="#999" stroke-width="0.45"/>
</g>
<path d="M24.5 4.8 V22.7 H43.0" fill="none" stroke="#333" stroke-width="1"/>
<path d="M48.0 4.6 H67.3" fill="none" stroke="#666" stroke-width="1.1"/>
<line x1="43.0" y1="22.7" x2="67.3" y2="4.6" stroke="#111" stroke-width="1.1"/>
<line x1="43.0" y1="22.7" x2="43.0" y2="67.5" stroke="#444" stroke-width="1"/>
<rect x="0.4" y="0" width="67.39999999999999" height="67.5" fill="none" stroke="#4a4a4a" stroke-width="1.05"/>
<line x1="3.0" y1="67.5" x2="3.0" y2="69.3" stroke="#666" stroke-width="0.6"/>
<line x1="10.8" y1="67.5" x2="10.8" y2="69.3" stroke="#666" stroke-width="0.6"/>
<line x1="18.6" y1="67.5" x2="18.6" y2="69.3" stroke="#666" stroke-width="0.6"/>
<line x1="26.4" y1="67.5" x2="26.4" y2="69.3" stroke="#666" stroke-width="0.6"/>
<line x1="34.2" y1="67.5" x2="34.2" y2="69.3" stroke="#666" stroke-width="0.6"/>
<line x1="42.0" y1="67.5" x2="42.0" y2="69.3" stroke="#666" stroke-width="0.6"/>
<line x1="49.8" y1="67.5" x2="49.8" y2="69.3" stroke="#666" stroke-width="0.6"/>
<line x1="57.6" y1="67.5" x2="57.6" y2="69.3" stroke="#666" stroke-width="0.6"/>
<line x1="65.4" y1="67.5" x2="65.4" y2="69.3" stroke="#666" stroke-width="0.6"/>
<line x1="-1.8" y1="4.0" x2="0" y2="4.0" stroke="#666" stroke-width="0.6"/>
<line x1="-1.8" y1="12.3" x2="0" y2="12.3" stroke="#666" stroke-width="0.6"/>
<line x1="-1.8" y1="20.6" x2="0" y2="20.6" stroke="#666" stroke-width="0.6"/>
<line x1="-1.8" y1="28.9" x2="0" y2="28.9" stroke="#666" stroke-width="0.6"/>
<line x1="-1.8" y1="37.2" x2="0" y2="37.2" stroke="#666" stroke-width="0.6"/>
<line x1="-1.8" y1="45.5" x2="0" y2="45.5" stroke="#666" stroke-width="0.6"/>
<line x1="-1.8" y1="53.8" x2="0" y2="53.8" stroke="#666" stroke-width="0.6"/>
<line x1="-1.8" y1="62.1" x2="0" y2="62.1" stroke="#666" stroke-width="0.6"/>
<rect x="24.5" y="0.6" width="22.5" height="9.2" fill="#fff"/>
<text x="27.1" y="9.3" font-size="9.4" textLength="18.8" lengthAdjust="spacingAndGlyphs" fill="#1a1a1a">6.02</text>
<rect x="46.5" y="57.5" width="20.7" height="9.4" fill="#fff"/>
<text x="66.6" y="65.8" font-size="9.4" text-anchor="end" textLength="18.4" lengthAdjust="spacingAndGlyphs" fill="#1a1a1a">1.53</text>
</g>
<g transform="translate(104.75,323.8) scale(1.0133,1.0074)">
<g clip-path="url(#cbox)">
<path d="M3 4 C6 -1 16 -1 20 5 C24 9 27 10 30 11 L28 24 C22 30 20 40 19 52 L18 68 L5 68 C4 50 2 30 3 4 Z" fill="#c6c6c6" filter="url(#bl2)"/>
<path d="M3 8 C5 0 18 0 21 8 L26 12 L26 22 C22 26 20 34 19 42 C15 47 7 47 4 42 Z" fill="#8c8c8c" filter="url(#bl2)"/>
<path d="M7 40 C8 50 9 60 10 68 L16 68 C16 58 17 48 18 40 Z" fill="#ccc" filter="url(#bl1)"/>
<path d="M16 9.5 L50 9.5 C55 12 55 21 50 23 L16 23 Z" fill="#555" filter="url(#bl1)"/>
<path d="M17 11 L49 11 C53 13 53 19.5 49 21 L17 21 Z" fill="#111" filter="url(#bl05)"/>
<path d="M11.30 8.20 C17.60 8.20 18.30 12.76 18.30 15.80 C18.30 19.45 15.94 21.88 16.23 23.40 C17.10 27.66 17.10 38.60 11.30 38.60 C5.50 38.60 5.50 27.66 6.37 23.40 C6.66 21.88 4.30 19.45 4.30 15.80 C4.30 12.76 5.00 8.20 11.30 8.20 Z" fill="none" stroke="#aaa" stroke-width="0.5" transform="translate(11.3,23.4) scale(1.55,1.330) translate(-11.3,-23.4)"/>
<path d="M11.30 8.20 C17.60 8.20 18.30 12.76 18.30 15.80 C18.30 19.45 15.94 21.88 16.23 23.40 C17.10 27.66 17.10 38.60 11.30 38.60 C5.50 38.60 5.50 27.66 6.37 23.40 C6.66 21.88 4.30 19.45 4.30 15.80 C4.30 12.76 5.00 8.20 11.30 8.20 Z" fill="none" stroke="#999" stroke-width="0.5" transform="translate(11.3,23.4) scale(1.38,1.228) translate(-11.3,-23.4)"/>
<path d="M11.30 8.20 C17.60 8.20 18.30 12.76 18.30 15.80 C18.30 19.45 15.94 21.88 16.23 23.40 C17.10 27.66 17.10 38.60 11.30 38.60 C5.50 38.60 5.50 27.66 6.37 23.40 C6.66 21.88 4.30 19.45 4.30 15.80 C4.30 12.76 5.00 8.20 11.30 8.20 Z" fill="none" stroke="#888" stroke-width="0.5" transform="translate(11.3,23.4) scale(1.2,1.120) translate(-11.3,-23.4)"/>
<path d="M11.30 8.20 C17.60 8.20 18.30 12.76 18.30 15.80 C18.30 19.45 15.94 21.88 16.23 23.40 C17.10 27.66 17.10 38.60 11.30 38.60 C5.50 38.60 5.50 27.66 6.37 23.40 C6.66 21.88 4.30 19.45 4.30 15.80 C4.30 12.76 5.00 8.20 11.30 8.20 Z" fill="#111" filter="url(#bl05)"/>
<path d="M24 14.6 L46 14.4 M26 18 L42 18" stroke="#ddd" stroke-width="0.7"/>
<path d="M9 14 C11 12 14 14 13 17 C12 19 9 18 10 16" fill="none" stroke="#bbb" stroke-width="0.5"/>
<path d="M12.5 24 L12.8 33" stroke="#999" stroke-width="0.7"/>
<ellipse cx="9" cy="67.5" rx="3.8" ry="2" fill="#000" filter="url(#bl05)"/>
<path d="M48 22 L56 20 C60 26 61 33 58 39 L52 35 C50 30 50 26 48 22 Z" fill="none" stroke="#999" stroke-width="0.6"/>
<path d="M4 40 C5 50 6 60 7 68 L18 68 C18 58 21 46 27 30 L20 38 Z" fill="#e6e6e6" filter="url(#bl1)"/>
<path d="M23 25 C17 36 15 50 14 68 M27 27 C21 38 18 52 17 68 M18 40 C14 48 13 58 13 68" fill="none" stroke="#999" stroke-width="0.45"/>
<path d="M3 30 C3 44 4 56 6 68 M5.5 42 C6 52 7 60 9 68" fill="none" stroke="#999" stroke-width="0.45"/>
<path d="M21 25 C15 36 13 50 12 68" fill="none" stroke="#888" stroke-width="0.45"/>
<path d="M25 25 C19 38 16 52 15 68" fill="none" stroke="#999" stroke-width="0.45"/>
<path d="M8 68 C8 56 8.5 46 9 40" fill="none" stroke="#999" stroke-width="0.45"/>
<path d="M17 4 C22 7 26 9 29 10" fill="none" stroke="#aaa" stroke-width="0.45"/>
<path d="M4 6 C2 20 3 40 6 60" fill="none" stroke="#999" stroke-width="0.45"/>
</g>
<path d="M24.5 4.8 V22.7 H43.0" fill="none" stroke="#333" stroke-width="1"/>
<path d="M48.0 4.6 H67.3" fill="none" stroke="#666" stroke-width="1.1"/>
<line x1="43.0" y1="22.7" x2="67.3" y2="4.6" stroke="#111" stroke-width="1.1"/>
<line x1="43.0" y1="22.7" x2="43.0" y2="67.5" stroke="#444" stroke-width="1"/>
<rect x="0.4" y="0" width="67.39999999999999" height="67.5" fill="none" stroke="#4a4a4a" stroke-width="1.05"/>
<line x1="3.0" y1="67.5" x2="3.0" y2="69.3" stroke="#666" stroke-width="0.6"/>
<line x1="10.8" y1="67.5" x2="10.8" y2="69.3" stroke="#666" stroke-width="0.6"/>
<line x1="18.6" y1="67.5" x2="18.6" y2="69.3" stroke="#666" stroke-width="0.6"/>
<line x1="26.4" y1="67.5" x2="26.4" y2="69.3" stroke="#666" stroke-width="0.6"/>
<line x1="34.2" y1="67.5" x2="34.2" y2="69.3" stroke="#666" stroke-width="0.6"/>
<line x1="42.0" y1="67.5" x2="42.0" y2="69.3" stroke="#666" stroke-width="0.6"/>
<line x1="49.8" y1="67.5" x2="49.8" y2="69.3" stroke="#666" stroke-width="0.6"/>
<line x1="57.6" y1="67.5" x2="57.6" y2="69.3" stroke="#666" stroke-width="0.6"/>
<line x1="65.4" y1="67.5" x2="65.4" y2="69.3" stroke="#666" stroke-width="0.6"/>
<line x1="-1.8" y1="4.0" x2="0" y2="4.0" stroke="#666" stroke-width="0.6"/>
<line x1="-1.8" y1="12.3" x2="0" y2="12.3" stroke="#666" stroke-width="0.6"/>
<line x1="-1.8" y1="20.6" x2="0" y2="20.6" stroke="#666" stroke-width="0.6"/>
<line x1="-1.8" y1="28.9" x2="0" y2="28.9" stroke="#666" stroke-width="0.6"/>
<line x1="-1.8" y1="37.2" x2="0" y2="37.2" stroke="#666" stroke-width="0.6"/>
<line x1="-1.8" y1="45.5" x2="0" y2="45.5" stroke="#666" stroke-width="0.6"/>
<line x1="-1.8" y1="53.8" x2="0" y2="53.8" stroke="#666" stroke-width="0.6"/>
<line x1="-1.8" y1="62.1" x2="0" y2="62.1" stroke="#666" stroke-width="0.6"/>
<rect x="24.5" y="0.6" width="22.5" height="9.2" fill="#fff"/>
<text x="27.1" y="9.3" font-size="9.4" textLength="18.8" lengthAdjust="spacingAndGlyphs" fill="#1a1a1a">14.6</text>
<rect x="46.5" y="57.5" width="20.7" height="9.4" fill="#fff"/>
<text x="66.6" y="65.8" font-size="9.4" text-anchor="end" textLength="18.4" lengthAdjust="spacingAndGlyphs" fill="#1a1a1a">1.41</text>
</g>
<g transform="translate(174.3,323.8) scale(1.0133,1.0074)">
<g clip-path="url(#cbox)">
<path d="M3 4 C6 -1 16 -1 20 5 C24 9 27 10 30 11 L28 24 C22 30 20 40 19 52 L18 68 L5 68 C4 50 2 30 3 4 Z" fill="#c6c6c6" filter="url(#bl2)"/>
<path d="M3 8 C5 0 18 0 21 8 L26 12 L26 22 C22 26 20 34 19 42 C15 47 7 47 4 42 Z" fill="#8c8c8c" filter="url(#bl2)"/>
<path d="M7 40 C8 50 9 60 10 68 L16 68 C16 58 17 48 18 40 Z" fill="#ccc" filter="url(#bl1)"/>
<path d="M24 11 L46 11 C50 13 50 19 46 20 L24 20 Z" fill="#ccc" filter="url(#bl1)"/>
<path d="M11.30 10.20 C17.60 10.20 18.30 14.46 18.30 17.30 C18.30 20.71 15.30 22.98 15.55 24.40 C16.30 28.38 16.30 38.60 11.30 38.60 C6.30 38.60 6.30 28.38 7.05 24.40 C7.30 22.98 4.30 20.71 4.30 17.30 C4.30 14.46 5.00 10.20 11.30 10.20 Z" fill="none" stroke="#aaa" stroke-width="0.5" transform="translate(11.3,24.4) scale(1.55,1.330) translate(-11.3,-24.4)"/>
<path d="M11.30 10.20 C17.60 10.20 18.30 14.46 18.30 17.30 C18.30 20.71 15.30 22.98 15.55 24.40 C16.30 28.38 16.30 38.60 11.30 38.60 C6.30 38.60 6.30 28.38 7.05 24.40 C7.30 22.98 4.30 20.71 4.30 17.30 C4.30 14.46 5.00 10.20 11.30 10.20 Z" fill="none" stroke="#999" stroke-width="0.5" transform="translate(11.3,24.4) scale(1.38,1.228) translate(-11.3,-24.4)"/>
<path d="M11.30 10.20 C17.60 10.20 18.30 14.46 18.30 17.30 C18.30 20.71 15.30 22.98 15.55 24.40 C16.30 28.38 16.30 38.60 11.30 38.60 C6.30 38.60 6.30 28.38 7.05 24.40 C7.30 22.98 4.30 20.71 4.30 17.30 C4.30 14.46 5.00 10.20 11.30 10.20 Z" fill="none" stroke="#888" stroke-width="0.5" transform="translate(11.3,24.4) scale(1.2,1.120) translate(-11.3,-24.4)"/>
<path d="M11.30 10.20 C17.60 10.20 18.30 14.46 18.30 17.30 C18.30 20.71 15.30 22.98 15.55 24.40 C16.30 28.38 16.30 38.60 11.30 38.60 C6.30 38.60 6.30 28.38 7.05 24.40 C7.30 22.98 4.30 20.71 4.30 17.30 C4.30 14.46 5.00 10.20 11.30 10.20 Z" fill="#1a1a1a" filter="url(#bl05)"/>
<ellipse cx="11" cy="31" rx="3.6" ry="6.5" fill="#444" filter="url(#bl05)"/>
<path d="M26 13 L44 13 M26 16.5 L42 17" stroke="#999" stroke-width="0.5"/>
<path d="M11 25 L11 35" stroke="#aaa" stroke-width="0.7"/>
<circle cx="11.5" cy="16.5" r="1.2" fill="none" stroke="#888" stroke-width="0.5"/>
<ellipse cx="10" cy="67.5" rx="4.2" ry="1.8" fill="#000" filter="url(#bl05)"/>
<path d="M4 40 C5 50 6 60 7 68 L18 68 C18 58 21 46 27 30 L20 38 Z" fill="#e6e6e6" filter="url(#bl1)"/>
<path d="M23 25 C17 36 15 50 14 68 M27 27 C21 38 18 52 17 68 M18 40 C14 48 13 58 13 68" fill="none" stroke="#999" stroke-width="0.45"/>
<path d="M3 30 C3 44 4 56 6 68 M5.5 42 C6 52 7 60 9 68" fill="none" stroke="#999" stroke-width="0.45"/>
<path d="M21 25 C15 36 13 50 12 68" fill="none" stroke="#888" stroke-width="0.45"/>
<path d="M25 25 C19 38 16 52 15 68" fill="none" stroke="#999" stroke-width="0.45"/>
<path d="M8 68 C8 56 8.5 46 9 40" fill="none" stroke="#999" stroke-width="0.45"/>
<path d="M17 4 C22 7 26 9 29 10" fill="none" stroke="#aaa" stroke-width="0.45"/>
<path d="M4 6 C2 20 3 40 6 60" fill="none" stroke="#999" stroke-width="0.45"/>
</g>
<path d="M24.5 4.8 V22.7 H43.0" fill="none" stroke="#333" stroke-width="1"/>
<path d="M48.0 4.6 H67.3" fill="none" stroke="#666" stroke-width="1.1"/>
<line x1="43.0" y1="22.7" x2="67.3" y2="4.6" stroke="#111" stroke-width="1.1"/>
<line x1="43.0" y1="22.7" x2="43.0" y2="67.5" stroke="#444" stroke-width="1"/>
<rect x="0.4" y="0" width="67.39999999999999" height="67.5" fill="none" stroke="#4a4a4a" stroke-width="1.05"/>
<line x1="3.0" y1="67.5" x2="3.0" y2="69.3" stroke="#666" stroke-width="0.6"/>
<line x1="10.8" y1="67.5" x2="10.8" y2="69.3" stroke="#666" stroke-width="0.6"/>
<line x1="18.6" y1="67.5" x2="18.6" y2="69.3" stroke="#666" stroke-width="0.6"/>
<line x1="26.4" y1="67.5" x2="26.4" y2="69.3" stroke="#666" stroke-width="0.6"/>
<line x1="34.2" y1="67.5" x2="34.2" y2="69.3" stroke="#666" stroke-width="0.6"/>
<line x1="42.0" y1="67.5" x2="42.0" y2="69.3" stroke="#666" stroke-width="0.6"/>
<line x1="49.8" y1="67.5" x2="49.8" y2="69.3" stroke="#666" stroke-width="0.6"/>
<line x1="57.6" y1="67.5" x2="57.6" y2="69.3" stroke="#666" stroke-width="0.6"/>
<line x1="65.4" y1="67.5" x2="65.4" y2="69.3" stroke="#666" stroke-width="0.6"/>
<line x1="-1.8" y1="4.0" x2="0" y2="4.0" stroke="#666" stroke-width="0.6"/>
<line x1="-1.8" y1="12.3" x2="0" y2="12.3" stroke="#666" stroke-width="0.6"/>
<line x1="-1.8" y1="20.6" x2="0" y2="20.6" stroke="#666" stroke-width="0.6"/>
<line x1="-1.8" y1="28.9" x2="0" y2="28.9" stroke="#666" stroke-width="0.6"/>
<line x1="-1.8" y1="37.2" x2="0" y2="37.2" stroke="#666" stroke-width="0.6"/>
<line x1="-1.8" y1="45.5" x2="0" y2="45.5" stroke="#666" stroke-width="0.6"/>
<line x1="-1.8" y1="53.8" x2="0" y2="53.8" stroke="#666" stroke-width="0.6"/>
<line x1="-1.8" y1="62.1" x2="0" y2="62.1" stroke="#666" stroke-width="0.6"/>
<rect x="24.5" y="0.6" width="22.5" height="9.2" fill="#fff"/>
<text x="27.1" y="9.3" font-size="9.4" textLength="18.8" lengthAdjust="spacingAndGlyphs" fill="#1a1a1a">2.81</text>
<rect x="46.5" y="57.5" width="20.7" height="9.4" fill="#fff"/>
<text x="66.6" y="65.8" font-size="9.4" text-anchor="end" textLength="18.4" lengthAdjust="spacingAndGlyphs" fill="#1a1a1a">0.32</text>
</g>
<g transform="translate(243.85,323.8) scale(1.0133,1.0074)">
<g clip-path="url(#cbox)">
<path d="M1 4 L20 4 L40 8 L48 14 L64 14 C69 22 68 42 62 50 L58 62 L40 68 L1 68 Z" fill="#e4e4e4" filter="url(#bl2)"/>
<path d="M14 2 L34 2 L40 8 L36 10 L20 10 Z" fill="#bbb" filter="url(#bl2)"/>
<path d="M12 22 L28 24 L30 44 L26 62 L14 66 Z" fill="#aaa" filter="url(#bl2)"/>
<path d="M2 10 C4 3 16 3 22 8 L26 16 L22 28 L26 46 L22 60 L16 68 L2 68 Z" fill="#808080" filter="url(#bl2)"/>
<path d="M3 12 C4 5 14 5 15 12 L15 40 L13 66 L3.5 66 Z" fill="#111" filter="url(#bl05)"/>
<path d="M6 20 C8 26 7 34 9 40 M10 44 C8 50 9 56 7 62" fill="none" stroke="#777" stroke-width="0.6"/>
<path d="M6 7 C14 3 26 6 28 12 C28 20 18 23 10 19 Z" fill="#222" filter="url(#bl05)"/>
<path d="M9 11 C13 8 20 9 22 12 C21 16 15 17 11 15" fill="none" stroke="#aaa" stroke-width="0.6"/>
<path d="M12 24 L24 28 L27 44 L22 60 L13 64 Z" fill="#777" filter="url(#bl1)"/>
<path d="M13 27 L23 43 M12 48 L21 63 M19 30 L25 36 M14 40 L18 56" stroke="#111" stroke-width="1.6" fill="none" filter="url(#bl05)"/>
<path d="M18 9.5 L48 9.5 C53 12 52 21 48 23 L18 22 Z" fill="#333" filter="url(#bl1)"/>
<path d="M20 14 L44 13.5 M22 17.5 L40 18" stroke="#ddd" stroke-width="0.7"/>
<ellipse cx="56" cy="28.5" rx="9" ry="10" fill="#bbb" filter="url(#bl2)"/>
<ellipse cx="56" cy="28.5" rx="6.3" ry="7.3" fill="#999" stroke="#1a1a1a" stroke-width="2.6" filter="url(#bl05)"/>
<path d="M53 26 C55 24 58 25 59 28 C60 31 57 33 54 32" fill="none" stroke="#333" stroke-width="1"/>
<path d="M7 30 L13 40 L8 56 M15 44 L10 60 M16 30 L20 40" stroke="#ccc" stroke-width="0.9" fill="none"/>
<path d="M28 24 C32 34 30 48 34 56 L40 60 M30 30 C36 38 34 50 40 56 M44 30 C40 40 44 52 42 60 M26 40 C30 46 28 54 32 60" fill="none" stroke="#999" stroke-width="0.5"/>
<path d="M46 38 C52 42 60 42 64 48 C62 54 58 60 50 58 M48 44 C54 46 58 48 60 52" fill="none" stroke="#999" stroke-width="0.5"/>
<ellipse cx="44" cy="67.5" rx="5" ry="1.6" fill="#000" filter="url(#bl05)"/>
</g>
<path d="M24.5 4.8 V22.7 H43.0" fill="none" stroke="#333" stroke-width="1"/>
<path d="M48.0 4.6 H67.3" fill="none" stroke="#666" stroke-width="1.1"/>
<line x1="43.0" y1="22.7" x2="67.3" y2="4.6" stroke="#111" stroke-width="1.1"/>
<line x1="43.0" y1="22.7" x2="43.0" y2="67.5" stroke="#444" stroke-width="1"/>
<rect x="0.4" y="0" width="67.39999999999999" height="67.5" fill="none" stroke="#4a4a4a" stroke-width="1.05"/>
<line x1="3.0" y1="67.5" x2="3.0" y2="69.3" stroke="#666" stroke-width="0.6"/>
<line x1="10.8" y1="67.5" x2="10.8" y2="69.3" stroke="#666" stroke-width="0.6"/>
<line x1="18.6" y1="67.5" x2="18.6" y2="69.3" stroke="#666" stroke-width="0.6"/>
<line x1="26.4" y1="67.5" x2="26.4" y2="69.3" stroke="#666" stroke-width="0.6"/>
<line x1="34.2" y1="67.5" x2="34.2" y2="69.3" stroke="#666" stroke-width="0.6"/>
<line x1="42.0" y1="67.5" x2="42.0" y2="69.3" stroke="#666" stroke-width="0.6"/>
<line x1="49.8" y1="67.5" x2="49.8" y2="69.3" stroke="#666" stroke-width="0.6"/>
<line x1="57.6" y1="67.5" x2="57.6" y2="69.3" stroke="#666" stroke-width="0.6"/>
<line x1="65.4" y1="67.5" x2="65.4" y2="69.3" stroke="#666" stroke-width="0.6"/>
<line x1="-1.8" y1="4.0" x2="0" y2="4.0" stroke="#666" stroke-width="0.6"/>
<line x1="-1.8" y1="12.3" x2="0" y2="12.3" stroke="#666" stroke-width="0.6"/>
<line x1="-1.8" y1="20.6" x2="0" y2="20.6" stroke="#666" stroke-width="0.6"/>
<line x1="-1.8" y1="28.9" x2="0" y2="28.9" stroke="#666" stroke-width="0.6"/>
<line x1="-1.8" y1="37.2" x2="0" y2="37.2" stroke="#666" stroke-width="0.6"/>
<line x1="-1.8" y1="45.5" x2="0" y2="45.5" stroke="#666" stroke-width="0.6"/>
<line x1="-1.8" y1="53.8" x2="0" y2="53.8" stroke="#666" stroke-width="0.6"/>
<line x1="-1.8" y1="62.1" x2="0" y2="62.1" stroke="#666" stroke-width="0.6"/>
<rect x="24.5" y="0.6" width="22.5" height="9.2" fill="#fff"/>
<text x="27.1" y="9.3" font-size="9.4" textLength="18.8" lengthAdjust="spacingAndGlyphs" fill="#1a1a1a">7.24</text>
<rect x="46.5" y="57.5" width="20.7" height="9.4" fill="#fff"/>
<text x="66.6" y="65.8" font-size="9.4" text-anchor="end" textLength="18.4" lengthAdjust="spacingAndGlyphs" fill="#1a1a1a">18.6</text>
</g>
<text y="195.10" font-size="9.3" font-style="italic" fill="#1a1a1a"><tspan x="89.40" textLength="37.70" lengthAdjust="spacingAndGlyphs">Unc93b1</tspan><tspan x="127.30" y="191.50" font-size="5.4" textLength="13.30" lengthAdjust="spacingAndGlyphs">wt/wt</tspan></text>
<text y="195.10" font-size="9.3" font-style="italic" fill="#1a1a1a"><tspan x="223.00" textLength="37.70" lengthAdjust="spacingAndGlyphs">Unc93b1</tspan><tspan x="260.90" y="191.50" font-size="5.4" textLength="14.80" lengthAdjust="spacingAndGlyphs">3d/3d</tspan></text>
<line x1="34.40" y1="200.20" x2="171.50" y2="200.20" stroke="#444" stroke-width="1.2" />
<line x1="176.00" y1="200.20" x2="313.50" y2="200.20" stroke="#444" stroke-width="1.2" />
<text x="41.50" y="212.40" font-size="9.6" textLength="56.80" lengthAdjust="spacingAndGlyphs" fill="#1a1a1a">Empty Vector</text>
<text y="212.40" font-size="9.6" font-style="italic" fill="#1a1a1a"><tspan x="117.00" textLength="32.00" lengthAdjust="spacingAndGlyphs">MYD88</tspan><tspan x="149.20" y="208.40" font-size="5.4" textLength="16.00" lengthAdjust="spacingAndGlyphs">L265P</tspan></text>
<text x="182.70" y="212.40" font-size="9.6" textLength="56.50" lengthAdjust="spacingAndGlyphs" fill="#1a1a1a">Empty Vector</text>
<text y="212.40" font-size="9.6" font-style="italic" fill="#1a1a1a"><tspan x="257.70" textLength="32.00" lengthAdjust="spacingAndGlyphs">MYD88</tspan><tspan x="289.90" y="208.40" font-size="5.4" textLength="16.10" lengthAdjust="spacingAndGlyphs">L265P</tspan></text>
<path d="M24 219.5 V232.8 M24 271.2 V282.2" stroke="#1a1a1a" stroke-width="1"/>
<path d="M24 217 L22.3 221.5 L25.7 221.5 Z" fill="#1a1a1a"/>
<text transform="translate(27.40,260.20) rotate(-90)" font-size="9.0" fill="#1a1a1a" textLength="20.10" lengthAdjust="spacingAndGlyphs">B220</text>
<path d="M24 326 V335.5 M24 378 V390.7" stroke="#1a1a1a" stroke-width="1"/>
<path d="M24 323.6 L22.3 328.1 L25.7 328.1 Z" fill="#1a1a1a"/>
<text transform="translate(27.80,369.80) rotate(-90)" font-size="9.0" fill="#1a1a1a" textLength="21.90" lengthAdjust="spacingAndGlyphs">CD19</text>
<line x1="33.30" y1="299.10" x2="160.00" y2="299.10" stroke="#444" stroke-width="1.2" />
<text x="165.70" y="302.60" font-size="9.4" textLength="16.00" lengthAdjust="spacingAndGlyphs" fill="#1a1a1a">IgM</text>
<line x1="184.30" y1="299.10" x2="309.00" y2="299.10" stroke="#444" stroke-width="1.2" />
<path d="M312.6 299.1 L307.6 297 L307.6 301.2 Z" fill="#1a1a1a"/>
<line x1="172.90" y1="306.00" x2="172.90" y2="318.50" stroke="#1a1a1a" stroke-width="1.1" />
<path d="M172.9 321.8 L170.8 317 L175 317 Z" fill="#1a1a1a"/>
<line x1="32.10" y1="403.70" x2="155.00" y2="403.70" stroke="#444" stroke-width="1.2" />
<text x="163.00" y="407.00" font-size="9.4" textLength="20.70" lengthAdjust="spacingAndGlyphs" fill="#1a1a1a">EGFP</text>
<line x1="189.90" y1="403.70" x2="308.50" y2="403.70" stroke="#444" stroke-width="1.2" />
<path d="M312 403.7 L307 401.6 L307 405.8 Z" fill="#1a1a1a"/>
<rect x="380.40" y="247.30" width="11.50" height="74.30" fill="#111"/>
<rect x="397.70" y="242.70" width="11.10" height="78.90" fill="#a6072c"/>
<rect x="415.00" y="244.30" width="11.50" height="77.30" fill="#111"/>
<rect x="432.60" y="225.40" width="11.20" height="96.20" fill="#a6072c"/>
<line x1="377.20" y1="214.90" x2="377.20" y2="322.20" stroke="#1a1a1a" stroke-width="1.3" />
<line x1="376.60" y1="321.60" x2="447.50" y2="321.60" stroke="#1a1a1a" stroke-width="1.3" />
<line x1="374.20" y1="216.40" x2="377.20" y2="216.40" stroke="#1a1a1a" stroke-width="1.2" />
<text y="219.10" font-size="7.6" fill="#1a1a1a"><tspan x="359.50" textLength="8" lengthAdjust="spacingAndGlyphs">10</tspan><tspan x="368.00" y="215.90" font-size="4.8" textLength="2.6" lengthAdjust="spacingAndGlyphs">5</tspan></text>
<line x1="374.20" y1="242.70" x2="377.20" y2="242.70" stroke="#1a1a1a" stroke-width="1.2" />
<text y="245.40" font-size="7.6" fill="#1a1a1a"><tspan x="359.50" textLength="8" lengthAdjust="spacingAndGlyphs">10</tspan><tspan x="368.00" y="242.20" font-size="4.8" textLength="2.6" lengthAdjust="spacingAndGlyphs">4</tspan></text>
<line x1="374.20" y1="269.00" x2="377.20" y2="269.00" stroke="#1a1a1a" stroke-width="1.2" />
<text y="271.70" font-size="7.6" fill="#1a1a1a"><tspan x="359.50" textLength="8" lengthAdjust="spacingAndGlyphs">10</tspan><tspan x="368.00" y="268.50" font-size="4.8" textLength="2.6" lengthAdjust="spacingAndGlyphs">3</tspan></text>
<line x1="374.20" y1="295.30" x2="377.20" y2="295.30" stroke="#1a1a1a" stroke-width="1.2" />
<text y="298.00" font-size="7.6" fill="#1a1a1a"><tspan x="359.50" textLength="8" lengthAdjust="spacingAndGlyphs">10</tspan><tspan x="368.00" y="294.80" font-size="4.8" textLength="2.6" lengthAdjust="spacingAndGlyphs">2</tspan></text>
<line x1="374.20" y1="321.60" x2="377.20" y2="321.60" stroke="#1a1a1a" stroke-width="1.2" />
<text y="324.30" font-size="7.6" fill="#1a1a1a"><tspan x="359.50" textLength="8" lengthAdjust="spacingAndGlyphs">10</tspan><tspan x="368.00" y="321.10" font-size="4.8" textLength="2.6" lengthAdjust="spacingAndGlyphs">1</tspan></text>
<line x1="375.40" y1="234.78" x2="377.20" y2="234.78" stroke="#1a1a1a" stroke-width="0.7" />
<line x1="375.40" y1="230.15" x2="377.20" y2="230.15" stroke="#1a1a1a" stroke-width="0.7" />
<line x1="375.40" y1="226.87" x2="377.20" y2="226.87" stroke="#1a1a1a" stroke-width="0.7" />
<line x1="375.40" y1="224.32" x2="377.20" y2="224.32" stroke="#1a1a1a" stroke-width="0.7" />
<line x1="375.40" y1="222.23" x2="377.20" y2="222.23" stroke="#1a1a1a" stroke-width="0.7" />
<line x1="375.40" y1="220.47" x2="377.20" y2="220.47" stroke="#1a1a1a" stroke-width="0.7" />
<line x1="375.40" y1="218.95" x2="377.20" y2="218.95" stroke="#1a1a1a" stroke-width="0.7" />
<line x1="375.40" y1="217.60" x2="377.20" y2="217.60" stroke="#1a1a1a" stroke-width="0.7" />
<line x1="375.40" y1="261.08" x2="377.20" y2="261.08" stroke="#1a1a1a" stroke-width="0.7" />
<line x1="375.40" y1="256.45" x2="377.20" y2="256.45" stroke="#1a1a1a" stroke-width="0.7" />
<line x1="375.40" y1="253.17" x2="377.20" y2="253.17" stroke="#1a1a1a" stroke-width="0.7" />
<line x1="375.40" y1="250.62" x2="377.20" y2="250.62" stroke="#1a1a1a" stroke-width="0.7" />
<line x1="375.40" y1="248.53" x2="377.20" y2="248.53" stroke="#1a1a1a" stroke-width="0.7" />
<line x1="375.40" y1="246.77" x2="377.20" y2="246.77" stroke="#1a1a1a" stroke-width="0.7" />
<line x1="375.40" y1="245.25" x2="377.20" y2="245.25" stroke="#1a1a1a" stroke-width="0.7" />
<line x1="375.40" y1="243.90" x2="377.20" y2="243.90" stroke="#1a1a1a" stroke-width="0.7" />
<line x1="375.40" y1="287.38" x2="377.20" y2="287.38" stroke="#1a1a1a" stroke-width="0.7" />
<line x1="375.40" y1="282.75" x2="377.20" y2="282.75" stroke="#1a1a1a" stroke-width="0.7" />
<line x1="375.40" y1="279.47" x2="377.20" y2="279.47" stroke="#1a1a1a" stroke-width="0.7" />
<line x1="375.40" y1="276.92" x2="377.20" y2="276.92" stroke="#1a1a1a" stroke-width="0.7" />
<line x1="375.40" y1="274.83" x2="377.20" y2="274.83" stroke="#1a1a1a" stroke-width="0.7" />
<line x1="375.40" y1="273.07" x2="377.20" y2="273.07" stroke="#1a1a1a" stroke-width="0.7" />
<line x1="375.40" y1="271.55" x2="377.20" y2="271.55" stroke="#1a1a1a" stroke-width="0.7" />
<line x1="375.40" y1="270.20" x2="377.20" y2="270.20" stroke="#1a1a1a" stroke-width="0.7" />
<line x1="375.40" y1="313.68" x2="377.20" y2="313.68" stroke="#1a1a1a" stroke-width="0.7" />
<line x1="375.40" y1="309.05" x2="377.20" y2="309.05" stroke="#1a1a1a" stroke-width="0.7" />
<line x1="375.40" y1="305.77" x2="377.20" y2="305.77" stroke="#1a1a1a" stroke-width="0.7" />
<line x1="375.40" y1="303.22" x2="377.20" y2="303.22" stroke="#1a1a1a" stroke-width="0.7" />
<line x1="375.40" y1="301.13" x2="377.20" y2="301.13" stroke="#1a1a1a" stroke-width="0.7" />
<line x1="375.40" y1="299.37" x2="377.20" y2="299.37" stroke="#1a1a1a" stroke-width="0.7" />
<line x1="375.40" y1="297.85" x2="377.20" y2="297.85" stroke="#1a1a1a" stroke-width="0.7" />
<line x1="375.40" y1="296.50" x2="377.20" y2="296.50" stroke="#1a1a1a" stroke-width="0.7" />
<circle cx="384.00" cy="247.60" r="2.4" fill="#fff" stroke="#000" stroke-width="1.15"/>
<circle cx="387.30" cy="248.20" r="2.4" fill="#fff" stroke="#000" stroke-width="1.15"/>
<circle cx="401.20" cy="240.60" r="2.4" fill="#fff" stroke="#000" stroke-width="1.15"/>
<circle cx="405.80" cy="244.30" r="2.4" fill="#fff" stroke="#000" stroke-width="1.15"/>
<circle cx="401.50" cy="246.50" r="2.4" fill="#fff" stroke="#000" stroke-width="1.15"/>
<circle cx="418.50" cy="242.70" r="2.4" fill="#fff" stroke="#000" stroke-width="1.15"/>
<circle cx="424.20" cy="244.00" r="2.4" fill="#fff" stroke="#000" stroke-width="1.15"/>
<circle cx="420.80" cy="255.00" r="2.4" fill="#fff" stroke="#000" stroke-width="1.15"/>
<circle cx="437.00" cy="223.00" r="2.4" fill="#fff" stroke="#000" stroke-width="1.15"/>
<circle cx="439.70" cy="226.00" r="2.4" fill="#fff" stroke="#000" stroke-width="1.15"/>
<circle cx="438.80" cy="229.50" r="2.4" fill="#fff" stroke="#000" stroke-width="1.15"/>
<path d="M403.4 214.3 H438.2 M403.4 210.4 V218.3 M438.2 210.4 V218.3" fill="none" stroke="#1a1a1a" stroke-width="1.2"/>
<text x="420.60" y="213.90" font-size="9" text-anchor="middle" textLength="10.60" lengthAdjust="spacingAndGlyphs" fill="#1a1a1a">***</text>
<line x1="378.00" y1="326.40" x2="410.90" y2="326.40" stroke="#1a1a1a" stroke-width="1.3" />
<line x1="413.00" y1="326.40" x2="445.80" y2="326.40" stroke="#1a1a1a" stroke-width="1.3" />
<g transform="translate(395.50,334.60) rotate(-45)"><text font-size="8.6" font-style="italic" fill="#1a1a1a"><tspan x="-48" y="0" textLength="34" lengthAdjust="spacingAndGlyphs">Unc93b1</tspan><tspan x="-13.6" y="-3.6" font-size="5.2" textLength="13.2" lengthAdjust="spacingAndGlyphs">wt/wt</tspan></text></g>
<g transform="translate(430.40,334.60) rotate(-45)"><text font-size="8.6" font-style="italic" fill="#1a1a1a"><tspan x="-48" y="0" textLength="34" lengthAdjust="spacingAndGlyphs">Unc93b1</tspan><tspan x="-13.6" y="-3.6" font-size="5.2" textLength="13.2" lengthAdjust="spacingAndGlyphs">3d/3d</tspan></text></g>
<text transform="translate(352.90,320.50) rotate(-90)" font-size="9.4" fill="#1a1a1a" textLength="106.50" lengthAdjust="spacingAndGlyphs">Number live EGFP+ B cells</text>
<rect x="453.5" y="253.8" width="8.3" height="7.8" fill="#111"/>
<rect x="453.5" y="273.2" width="8.3" height="7.8" fill="#a6072c"/>
<text x="465.40" y="260.80" font-size="8.7" textLength="46.90" lengthAdjust="spacingAndGlyphs" fill="#1a1a1a">Empty Vector</text>
<text y="280.30" font-size="8.7" font-style="italic" fill="#1a1a1a"><tspan x="465.40" textLength="26.10" lengthAdjust="spacingAndGlyphs">MYD88</tspan><tspan x="491.70" y="276.30" font-size="5.4" textLength="16.00" lengthAdjust="spacingAndGlyphs">L265P</tspan></text>
<text x="396.30" y="195.80" font-size="9.9" textLength="31.20" lengthAdjust="spacingAndGlyphs" fill="#1a1a1a">Day 11</text>
<rect x="60.50" y="523.00" width="12.00" height="24.50" fill="#111"/>
<rect x="77.50" y="535.00" width="12.00" height="12.50" fill="#a6072c"/>
<rect x="95.50" y="536.25" width="11.50" height="11.25" fill="#111"/>
<rect x="112.50" y="476.25" width="11.75" height="71.25" fill="#a6072c"/>
<line x1="58.00" y1="442.25" x2="58.00" y2="548.10" stroke="#1a1a1a" stroke-width="1.3" />
<line x1="57.40" y1="547.50" x2="126.00" y2="547.50" stroke="#1a1a1a" stroke-width="1.3" />
<line x1="55.00" y1="547.50" x2="58.00" y2="547.50" stroke="#1a1a1a" stroke-width="1.2" />
<text x="50.70" y="550.20" font-size="7.6" text-anchor="end" textLength="4.20" lengthAdjust="spacingAndGlyphs" fill="#1a1a1a">0</text>
<line x1="55.00" y1="526.75" x2="58.00" y2="526.75" stroke="#1a1a1a" stroke-width="1.2" />
<text x="50.70" y="529.45" font-size="7.6" text-anchor="end" textLength="8.40" lengthAdjust="spacingAndGlyphs" fill="#1a1a1a">20</text>
<line x1="55.00" y1="506.00" x2="58.00" y2="506.00" stroke="#1a1a1a" stroke-width="1.2" />
<text x="50.70" y="508.70" font-size="7.6" text-anchor="end" textLength="8.40" lengthAdjust="spacingAndGlyphs" fill="#1a1a1a">40</text>
<line x1="55.00" y1="485.25" x2="58.00" y2="485.25" stroke="#1a1a1a" stroke-width="1.2" />
<text x="50.70" y="487.95" font-size="7.6" text-anchor="end" textLength="8.40" lengthAdjust="spacingAndGlyphs" fill="#1a1a1a">60</text>
<line x1="55.00" y1="464.50" x2="58.00" y2="464.50" stroke="#1a1a1a" stroke-width="1.2" />
<text x="50.70" y="467.20" font-size="7.6" text-anchor="end" textLength="8.40" lengthAdjust="spacingAndGlyphs" fill="#1a1a1a">80</text>
<line x1="55.00" y1="443.75" x2="58.00" y2="443.75" stroke="#1a1a1a" stroke-width="1.2" />
<text x="50.70" y="446.45" font-size="7.6" text-anchor="end" textLength="12.60" lengthAdjust="spacingAndGlyphs" fill="#1a1a1a">100</text>
<circle cx="64.50" cy="520.50" r="2.4" fill="#fff" stroke="#000" stroke-width="1.15"/>
<circle cx="67.50" cy="523.80" r="2.4" fill="#fff" stroke="#000" stroke-width="1.15"/>
<circle cx="81.25" cy="531.20" r="2.4" fill="#fff" stroke="#000" stroke-width="1.15"/>
<circle cx="85.00" cy="533.80" r="2.4" fill="#fff" stroke="#000" stroke-width="1.15"/>
<circle cx="83.00" cy="538.00" r="2.4" fill="#fff" stroke="#000" stroke-width="1.15"/>
<circle cx="98.80" cy="533.80" r="2.4" fill="#fff" stroke="#000" stroke-width="1.15"/>
<circle cx="102.50" cy="536.20" r="2.4" fill="#fff" stroke="#000" stroke-width="1.15"/>
<circle cx="117.50" cy="468.80" r="2.4" fill="#fff" stroke="#000" stroke-width="1.15"/>
<circle cx="115.00" cy="480.50" r="2.4" fill="#fff" stroke="#000" stroke-width="1.15"/>
<circle cx="120.80" cy="477.50" r="2.4" fill="#fff" stroke="#000" stroke-width="1.15"/>
<path d="M83.3 451.4 H118.4 M83.3 447.5 V455.4 M118.4 447.5 V455.4" fill="none" stroke="#1a1a1a" stroke-width="1.2"/>
<text x="100.90" y="450.60" font-size="9" text-anchor="middle" textLength="10.60" lengthAdjust="spacingAndGlyphs" fill="#1a1a1a">***</text>
<line x1="58.75" y1="552.00" x2="90.00" y2="552.00" stroke="#1a1a1a" stroke-width="1.3" />
<line x1="93.75" y1="552.00" x2="125.00" y2="552.00" stroke="#1a1a1a" stroke-width="1.3" />
<g transform="translate(75.40,560.20) rotate(-45)"><text font-size="8.6" font-style="italic" fill="#1a1a1a"><tspan x="-48" y="0" textLength="34" lengthAdjust="spacingAndGlyphs">Unc93b1</tspan><tspan x="-13.6" y="-3.6" font-size="5.2" textLength="13.2" lengthAdjust="spacingAndGlyphs">wt/wt</tspan></text></g>
<g transform="translate(110.40,560.20) rotate(-45)"><text font-size="8.6" font-style="italic" fill="#1a1a1a"><tspan x="-48" y="0" textLength="34" lengthAdjust="spacingAndGlyphs">Unc93b1</tspan><tspan x="-13.6" y="-3.6" font-size="5.2" textLength="13.2" lengthAdjust="spacingAndGlyphs">3d/3d</tspan></text></g>
<g transform="translate(31.90,533.80) rotate(-90)"><text font-size="8.9" fill="#1a1a1a"><tspan x="0" y="0" textLength="66.50" lengthAdjust="spacingAndGlyphs">Percentage CD19</tspan><tspan x="66.70" y="-3.80" font-size="5.4" textLength="10.50" lengthAdjust="spacingAndGlyphs">low</tspan></text></g>
<rect x="227.30" y="476.90" width="12.10" height="70.00" fill="#111"/>
<rect x="244.80" y="470.70" width="11.60" height="76.20" fill="#a6072c"/>
<rect x="262.30" y="472.90" width="12.10" height="74.00" fill="#111"/>
<rect x="279.80" y="464.30" width="12.10" height="82.60" fill="#a6072c"/>
<line x1="224.10" y1="441.00" x2="224.10" y2="547.50" stroke="#1a1a1a" stroke-width="1.3" />
<line x1="223.50" y1="546.90" x2="294.00" y2="546.90" stroke="#1a1a1a" stroke-width="1.3" />
<line x1="221.10" y1="442.50" x2="224.10" y2="442.50" stroke="#1a1a1a" stroke-width="1.2" />
<text y="445.20" font-size="7.6" fill="#1a1a1a"><tspan x="206.40" textLength="8" lengthAdjust="spacingAndGlyphs">10</tspan><tspan x="214.90" y="442.00" font-size="4.8" textLength="2.6" lengthAdjust="spacingAndGlyphs">5</tspan></text>
<line x1="221.10" y1="468.60" x2="224.10" y2="468.60" stroke="#1a1a1a" stroke-width="1.2" />
<text y="471.30" font-size="7.6" fill="#1a1a1a"><tspan x="206.40" textLength="8" lengthAdjust="spacingAndGlyphs">10</tspan><tspan x="214.90" y="468.10" font-size="4.8" textLength="2.6" lengthAdjust="spacingAndGlyphs">4</tspan></text>
<line x1="221.10" y1="494.70" x2="224.10" y2="494.70" stroke="#1a1a1a" stroke-width="1.2" />
<text y="497.40" font-size="7.6" fill="#1a1a1a"><tspan x="206.40" textLength="8" lengthAdjust="spacingAndGlyphs">10</tspan><tspan x="214.90" y="494.20" font-size="4.8" textLength="2.6" lengthAdjust="spacingAndGlyphs">3</tspan></text>
<line x1="221.10" y1="520.80" x2="224.10" y2="520.80" stroke="#1a1a1a" stroke-width="1.2" />
<text y="523.50" font-size="7.6" fill="#1a1a1a"><tspan x="206.40" textLength="8" lengthAdjust="spacingAndGlyphs">10</tspan><tspan x="214.90" y="520.30" font-size="4.8" textLength="2.6" lengthAdjust="spacingAndGlyphs">2</tspan></text>
<line x1="221.10" y1="546.90" x2="224.10" y2="546.90" stroke="#1a1a1a" stroke-width="1.2" />
<text y="549.60" font-size="7.6" fill="#1a1a1a"><tspan x="206.40" textLength="8" lengthAdjust="spacingAndGlyphs">10</tspan><tspan x="214.90" y="546.40" font-size="4.8" textLength="2.6" lengthAdjust="spacingAndGlyphs">1</tspan></text>
<line x1="222.30" y1="460.74" x2="224.10" y2="460.74" stroke="#1a1a1a" stroke-width="0.7" />
<line x1="222.30" y1="456.15" x2="224.10" y2="456.15" stroke="#1a1a1a" stroke-width="0.7" />
<line x1="222.30" y1="452.89" x2="224.10" y2="452.89" stroke="#1a1a1a" stroke-width="0.7" />
<line x1="222.30" y1="450.36" x2="224.10" y2="450.36" stroke="#1a1a1a" stroke-width="0.7" />
<line x1="222.30" y1="448.29" x2="224.10" y2="448.29" stroke="#1a1a1a" stroke-width="0.7" />
<line x1="222.30" y1="446.54" x2="224.10" y2="446.54" stroke="#1a1a1a" stroke-width="0.7" />
<line x1="222.30" y1="445.03" x2="224.10" y2="445.03" stroke="#1a1a1a" stroke-width="0.7" />
<line x1="222.30" y1="443.69" x2="224.10" y2="443.69" stroke="#1a1a1a" stroke-width="0.7" />
<line x1="222.30" y1="486.84" x2="224.10" y2="486.84" stroke="#1a1a1a" stroke-width="0.7" />
<line x1="222.30" y1="482.25" x2="224.10" y2="482.25" stroke="#1a1a1a" stroke-width="0.7" />
<line x1="222.30" y1="478.99" x2="224.10" y2="478.99" stroke="#1a1a1a" stroke-width="0.7" />
<line x1="222.30" y1="476.46" x2="224.10" y2="476.46" stroke="#1a1a1a" stroke-width="0.7" />
<line x1="222.30" y1="474.39" x2="224.10" y2="474.39" stroke="#1a1a1a" stroke-width="0.7" />
<line x1="222.30" y1="472.64" x2="224.10" y2="472.64" stroke="#1a1a1a" stroke-width="0.7" />
<line x1="222.30" y1="471.13" x2="224.10" y2="471.13" stroke="#1a1a1a" stroke-width="0.7" />
<line x1="222.30" y1="469.79" x2="224.10" y2="469.79" stroke="#1a1a1a" stroke-width="0.7" />
<line x1="222.30" y1="512.94" x2="224.10" y2="512.94" stroke="#1a1a1a" stroke-width="0.7" />
<line x1="222.30" y1="508.35" x2="224.10" y2="508.35" stroke="#1a1a1a" stroke-width="0.7" />
<line x1="222.30" y1="505.09" x2="224.10" y2="505.09" stroke="#1a1a1a" stroke-width="0.7" />
<line x1="222.30" y1="502.56" x2="224.10" y2="502.56" stroke="#1a1a1a" stroke-width="0.7" />
<line x1="222.30" y1="500.49" x2="224.10" y2="500.49" stroke="#1a1a1a" stroke-width="0.7" />
<line x1="222.30" y1="498.74" x2="224.10" y2="498.74" stroke="#1a1a1a" stroke-width="0.7" />
<line x1="222.30" y1="497.23" x2="224.10" y2="497.23" stroke="#1a1a1a" stroke-width="0.7" />
<line x1="222.30" y1="495.89" x2="224.10" y2="495.89" stroke="#1a1a1a" stroke-width="0.7" />
<line x1="222.30" y1="539.04" x2="224.10" y2="539.04" stroke="#1a1a1a" stroke-width="0.7" />
<line x1="222.30" y1="534.45" x2="224.10" y2="534.45" stroke="#1a1a1a" stroke-width="0.7" />
<line x1="222.30" y1="531.19" x2="224.10" y2="531.19" stroke="#1a1a1a" stroke-width="0.7" />
<line x1="222.30" y1="528.66" x2="224.10" y2="528.66" stroke="#1a1a1a" stroke-width="0.7" />
<line x1="222.30" y1="526.59" x2="224.10" y2="526.59" stroke="#1a1a1a" stroke-width="0.7" />
<line x1="222.30" y1="524.84" x2="224.10" y2="524.84" stroke="#1a1a1a" stroke-width="0.7" />
<line x1="222.30" y1="523.33" x2="224.10" y2="523.33" stroke="#1a1a1a" stroke-width="0.7" />
<line x1="222.30" y1="521.99" x2="224.10" y2="521.99" stroke="#1a1a1a" stroke-width="0.7" />
<circle cx="231.40" cy="477.50" r="2.4" fill="#fff" stroke="#000" stroke-width="1.15"/>
<circle cx="234.00" cy="477.50" r="2.4" fill="#fff" stroke="#000" stroke-width="1.15"/>
<circle cx="248.90" cy="467.50" r="2.4" fill="#fff" stroke="#000" stroke-width="1.15"/>
<circle cx="252.90" cy="470.70" r="2.4" fill="#fff" stroke="#000" stroke-width="1.15"/>
<circle cx="251.00" cy="474.80" r="2.4" fill="#fff" stroke="#000" stroke-width="1.15"/>
<circle cx="265.50" cy="470.20" r="2.4" fill="#fff" stroke="#000" stroke-width="1.15"/>
<circle cx="270.40" cy="471.00" r="2.4" fill="#fff" stroke="#000" stroke-width="1.15"/>
<circle cx="267.70" cy="480.40" r="2.4" fill="#fff" stroke="#000" stroke-width="1.15"/>
<circle cx="283.30" cy="463.50" r="2.4" fill="#fff" stroke="#000" stroke-width="1.15"/>
<circle cx="286.50" cy="465.60" r="2.4" fill="#fff" stroke="#000" stroke-width="1.15"/>
<circle cx="284.40" cy="468.00" r="2.4" fill="#fff" stroke="#000" stroke-width="1.15"/>
<path d="M250.6 449.9 H285.2 M250.6 446.0 V453.9 M285.2 446.0 V453.9" fill="none" stroke="#1a1a1a" stroke-width="1.2"/>
<text x="268.00" y="446.80" font-size="7.6" text-anchor="middle" textLength="8.10" lengthAdjust="spacingAndGlyphs" fill="#1a1a1a">ns</text>
<line x1="225.40" y1="552.90" x2="257.50" y2="552.90" stroke="#1a1a1a" stroke-width="1.3" />
<line x1="261.00" y1="552.90" x2="293.30" y2="552.90" stroke="#1a1a1a" stroke-width="1.3" />
<g transform="translate(242.50,561.10) rotate(-45)"><text font-size="8.6" font-style="italic" fill="#1a1a1a"><tspan x="-48" y="0" textLength="34" lengthAdjust="spacingAndGlyphs">Unc93b1</tspan><tspan x="-13.6" y="-3.6" font-size="5.2" textLength="13.2" lengthAdjust="spacingAndGlyphs">wt/wt</tspan></text></g>
<g transform="translate(278.10,561.10) rotate(-45)"><text font-size="8.6" font-style="italic" fill="#1a1a1a"><tspan x="-48" y="0" textLength="34" lengthAdjust="spacingAndGlyphs">Unc93b1</tspan><tspan x="-13.6" y="-3.6" font-size="5.2" textLength="13.2" lengthAdjust="spacingAndGlyphs">3d/3d</tspan></text></g>
<g transform="translate(188.60,536.50) rotate(-90)"><text font-size="8.9" fill="#1a1a1a"><tspan x="0" y="0" textLength="72.00" lengthAdjust="spacingAndGlyphs">Number live CD19</tspan><tspan x="72.20" y="-3.80" font-size="5.4" textLength="13.60" lengthAdjust="spacingAndGlyphs">high</tspan></text></g>
<text transform="translate(199.30,521.70) rotate(-90)" font-size="8.9" fill="#1a1a1a" textLength="55.60" lengthAdjust="spacingAndGlyphs">EGFP+ B cells</text>
<rect x="396.80" y="489.00" width="11.30" height="57.30" fill="#111"/>
<rect x="414.00" y="493.60" width="11.60" height="52.70" fill="#a6072c"/>
<rect x="431.80" y="494.40" width="11.30" height="51.90" fill="#111"/>
<rect x="449.30" y="454.80" width="11.30" height="91.50" fill="#a6072c"/>
<line x1="393.30" y1="440.40" x2="393.30" y2="546.90" stroke="#1a1a1a" stroke-width="1.3" />
<line x1="392.70" y1="546.30" x2="463.00" y2="546.30" stroke="#1a1a1a" stroke-width="1.3" />
<line x1="390.30" y1="441.90" x2="393.30" y2="441.90" stroke="#1a1a1a" stroke-width="1.2" />
<text y="444.60" font-size="7.6" fill="#1a1a1a"><tspan x="375.60" textLength="8" lengthAdjust="spacingAndGlyphs">10</tspan><tspan x="384.10" y="441.40" font-size="4.8" textLength="2.6" lengthAdjust="spacingAndGlyphs">5</tspan></text>
<line x1="390.30" y1="468.00" x2="393.30" y2="468.00" stroke="#1a1a1a" stroke-width="1.2" />
<text y="470.70" font-size="7.6" fill="#1a1a1a"><tspan x="375.60" textLength="8" lengthAdjust="spacingAndGlyphs">10</tspan><tspan x="384.10" y="467.50" font-size="4.8" textLength="2.6" lengthAdjust="spacingAndGlyphs">4</tspan></text>
<line x1="390.30" y1="494.10" x2="393.30" y2="494.10" stroke="#1a1a1a" stroke-width="1.2" />
<text y="496.80" font-size="7.6" fill="#1a1a1a"><tspan x="375.60" textLength="8" lengthAdjust="spacingAndGlyphs">10</tspan><tspan x="384.10" y="493.60" font-size="4.8" textLength="2.6" lengthAdjust="spacingAndGlyphs">3</tspan></text>
<line x1="390.30" y1="520.20" x2="393.30" y2="520.20" stroke="#1a1a1a" stroke-width="1.2" />
<text y="522.90" font-size="7.6" fill="#1a1a1a"><tspan x="375.60" textLength="8" lengthAdjust="spacingAndGlyphs">10</tspan><tspan x="384.10" y="519.70" font-size="4.8" textLength="2.6" lengthAdjust="spacingAndGlyphs">2</tspan></text>
<line x1="390.30" y1="546.30" x2="393.30" y2="546.30" stroke="#1a1a1a" stroke-width="1.2" />
<text y="549.00" font-size="7.6" fill="#1a1a1a"><tspan x="375.60" textLength="8" lengthAdjust="spacingAndGlyphs">10</tspan><tspan x="384.10" y="545.80" font-size="4.8" textLength="2.6" lengthAdjust="spacingAndGlyphs">1</tspan></text>
<line x1="391.50" y1="460.14" x2="393.30" y2="460.14" stroke="#1a1a1a" stroke-width="0.7" />
<line x1="391.50" y1="455.55" x2="393.30" y2="455.55" stroke="#1a1a1a" stroke-width="0.7" />
<line x1="391.50" y1="452.29" x2="393.30" y2="452.29" stroke="#1a1a1a" stroke-width="0.7" />
<line x1="391.50" y1="449.76" x2="393.30" y2="449.76" stroke="#1a1a1a" stroke-width="0.7" />
<line x1="391.50" y1="447.69" x2="393.30" y2="447.69" stroke="#1a1a1a" stroke-width="0.7" />
<line x1="391.50" y1="445.94" x2="393.30" y2="445.94" stroke="#1a1a1a" stroke-width="0.7" />
<line x1="391.50" y1="444.43" x2="393.30" y2="444.43" stroke="#1a1a1a" stroke-width="0.7" />
<line x1="391.50" y1="443.09" x2="393.30" y2="443.09" stroke="#1a1a1a" stroke-width="0.7" />
<line x1="391.50" y1="486.24" x2="393.30" y2="486.24" stroke="#1a1a1a" stroke-width="0.7" />
<line x1="391.50" y1="481.65" x2="393.30" y2="481.65" stroke="#1a1a1a" stroke-width="0.7" />
<line x1="391.50" y1="478.39" x2="393.30" y2="478.39" stroke="#1a1a1a" stroke-width="0.7" />
<line x1="391.50" y1="475.86" x2="393.30" y2="475.86" stroke="#1a1a1a" stroke-width="0.7" />
<line x1="391.50" y1="473.79" x2="393.30" y2="473.79" stroke="#1a1a1a" stroke-width="0.7" />
<line x1="391.50" y1="472.04" x2="393.30" y2="472.04" stroke="#1a1a1a" stroke-width="0.7" />
<line x1="391.50" y1="470.53" x2="393.30" y2="470.53" stroke="#1a1a1a" stroke-width="0.7" />
<line x1="391.50" y1="469.19" x2="393.30" y2="469.19" stroke="#1a1a1a" stroke-width="0.7" />
<line x1="391.50" y1="512.34" x2="393.30" y2="512.34" stroke="#1a1a1a" stroke-width="0.7" />
<line x1="391.50" y1="507.75" x2="393.30" y2="507.75" stroke="#1a1a1a" stroke-width="0.7" />
<line x1="391.50" y1="504.49" x2="393.30" y2="504.49" stroke="#1a1a1a" stroke-width="0.7" />
<line x1="391.50" y1="501.96" x2="393.30" y2="501.96" stroke="#1a1a1a" stroke-width="0.7" />
<line x1="391.50" y1="499.89" x2="393.30" y2="499.89" stroke="#1a1a1a" stroke-width="0.7" />
<line x1="391.50" y1="498.14" x2="393.30" y2="498.14" stroke="#1a1a1a" stroke-width="0.7" />
<line x1="391.50" y1="496.63" x2="393.30" y2="496.63" stroke="#1a1a1a" stroke-width="0.7" />
<line x1="391.50" y1="495.29" x2="393.30" y2="495.29" stroke="#1a1a1a" stroke-width="0.7" />
<line x1="391.50" y1="538.44" x2="393.30" y2="538.44" stroke="#1a1a1a" stroke-width="0.7" />
<line x1="391.50" y1="533.85" x2="393.30" y2="533.85" stroke="#1a1a1a" stroke-width="0.7" />
<line x1="391.50" y1="530.59" x2="393.30" y2="530.59" stroke="#1a1a1a" stroke-width="0.7" />
<line x1="391.50" y1="528.06" x2="393.30" y2="528.06" stroke="#1a1a1a" stroke-width="0.7" />
<line x1="391.50" y1="525.99" x2="393.30" y2="525.99" stroke="#1a1a1a" stroke-width="0.7" />
<line x1="391.50" y1="524.24" x2="393.30" y2="524.24" stroke="#1a1a1a" stroke-width="0.7" />
<line x1="391.50" y1="522.73" x2="393.30" y2="522.73" stroke="#1a1a1a" stroke-width="0.7" />
<line x1="391.50" y1="521.39" x2="393.30" y2="521.39" stroke="#1a1a1a" stroke-width="0.7" />
<circle cx="400.50" cy="487.70" r="2.4" fill="#fff" stroke="#000" stroke-width="1.15"/>
<circle cx="403.20" cy="490.40" r="2.4" fill="#fff" stroke="#000" stroke-width="1.15"/>
<circle cx="420.20" cy="489.00" r="2.4" fill="#fff" stroke="#000" stroke-width="1.15"/>
<circle cx="416.20" cy="495.80" r="2.4" fill="#fff" stroke="#000" stroke-width="1.15"/>
<circle cx="422.90" cy="493.60" r="2.4" fill="#fff" stroke="#000" stroke-width="1.15"/>
<circle cx="433.70" cy="490.40" r="2.4" fill="#fff" stroke="#000" stroke-width="1.15"/>
<circle cx="439.90" cy="494.40" r="2.4" fill="#fff" stroke="#000" stroke-width="1.15"/>
<circle cx="437.20" cy="504.40" r="2.4" fill="#fff" stroke="#000" stroke-width="1.15"/>
<circle cx="452.50" cy="451.30" r="2.4" fill="#fff" stroke="#000" stroke-width="1.15"/>
<circle cx="454.40" cy="458.10" r="2.4" fill="#fff" stroke="#000" stroke-width="1.15"/>
<circle cx="456.50" cy="455.40" r="2.4" fill="#fff" stroke="#000" stroke-width="1.15"/>
<path d="M419.6 444.7 H454.4 M419.6 440.8 V448.7 M454.4 440.8 V448.7" fill="none" stroke="#1a1a1a" stroke-width="1.2"/>
<text x="436.90" y="444.30" font-size="9" text-anchor="middle" textLength="10.60" lengthAdjust="spacingAndGlyphs" fill="#1a1a1a">***</text>
<line x1="394.60" y1="552.30" x2="426.90" y2="552.30" stroke="#1a1a1a" stroke-width="1.3" />
<line x1="431.00" y1="552.30" x2="461.90" y2="552.30" stroke="#1a1a1a" stroke-width="1.3" />
<g transform="translate(411.80,560.50) rotate(-45)"><text font-size="8.6" font-style="italic" fill="#1a1a1a"><tspan x="-48" y="0" textLength="34" lengthAdjust="spacingAndGlyphs">Unc93b1</tspan><tspan x="-13.6" y="-3.6" font-size="5.2" textLength="13.2" lengthAdjust="spacingAndGlyphs">wt/wt</tspan></text></g>
<g transform="translate(447.40,560.50) rotate(-45)"><text font-size="8.6" font-style="italic" fill="#1a1a1a"><tspan x="-48" y="0" textLength="34" lengthAdjust="spacingAndGlyphs">Unc93b1</tspan><tspan x="-13.6" y="-3.6" font-size="5.2" textLength="13.2" lengthAdjust="spacingAndGlyphs">3d/3d</tspan></text></g>
<g transform="translate(357.50,535.70) rotate(-90)"><text font-size="8.9" fill="#1a1a1a"><tspan x="0" y="0" textLength="72.00" lengthAdjust="spacingAndGlyphs">Number live CD19</tspan><tspan x="72.20" y="-3.80" font-size="5.4" textLength="13.00" lengthAdjust="spacingAndGlyphs">low</tspan></text></g>
<text transform="translate(369.30,521.70) rotate(-90)" font-size="8.9" fill="#1a1a1a" textLength="55.60" lengthAdjust="spacingAndGlyphs">EGFP+ B cells</text>
<rect x="0" y="0" width="520" height="1.4" fill="#000"/><rect x="0" y="0" width="1.3" height="604" fill="#000"/><rect x="518.8" y="0" width="1.2" height="604" fill="#000"/><rect x="0" y="602.5" width="520" height="1.5" fill="#000"/>
</svg>
</body></html>
